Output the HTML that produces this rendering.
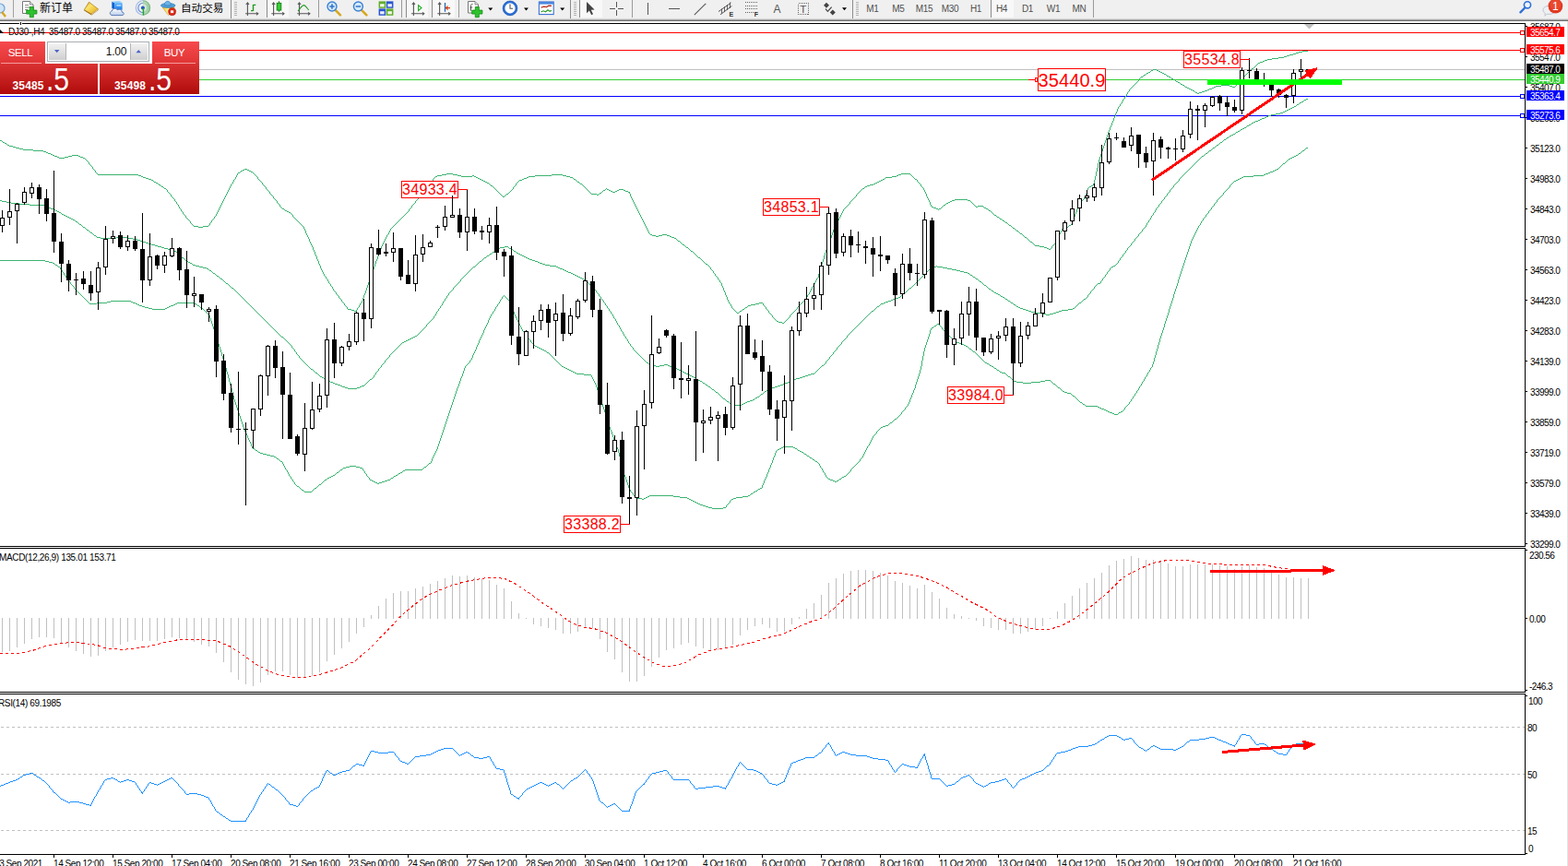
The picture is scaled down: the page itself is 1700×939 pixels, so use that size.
<!DOCTYPE html>
<html><head><meta charset="utf-8"><title>DJ30 H4</title>
<style>
html,body{margin:0;padding:0;}
body{width:1700px;height:939px;overflow:hidden;background:#fff;position:relative;font-family:"Liberation Sans",sans-serif;}
#tb{position:absolute;left:0;top:0;width:1700px;height:20px;background:#f0f0f0;}
.t{position:absolute;white-space:nowrap;color:#000;font-size:10px;line-height:10px;letter-spacing:-0.55px;}
.pl{left:1659px;}
.bx{position:absolute;left:1655px;width:41px;height:11px;}
.bx span{position:absolute;left:4px;top:0.5px;font-size:10px;line-height:11px;letter-spacing:-0.55px;color:#fff;white-space:nowrap;}
.tf{position:absolute;top:3.5px;width:28px;text-align:center;font-size:10px;line-height:11px;color:#505050;letter-spacing:-0.3px;}
.an{position:absolute;color:#ff0000;white-space:nowrap;text-align:center;}
svg{position:absolute;left:0;top:0;}
</style></head><body>

<svg width="1700" height="939" viewBox="0 0 1700 939" shape-rendering="crispEdges">
<rect x="0" y="20" width="1700" height="1" fill="#d9d9d9"/><rect x="0" y="21" width="1700" height="1" fill="#a6a6a6"/><rect x="0" y="22" width="1700" height="1" fill="#707070"/>
<rect x="1699" y="23" width="1" height="916" fill="#e3e3e3"/>
<rect x="0" y="25" width="1654" height="1" fill="#000"/>
<rect x="1653" y="25" width="1" height="568" fill="#000"/><rect x="1653" y="594" width="1" height="157" fill="#000"/><rect x="1653" y="752" width="1" height="175" fill="#000"/>
<rect x="0" y="592" width="1654" height="1" fill="#000"/>
<rect x="0" y="594" width="1654" height="1" fill="#000"/>
<rect x="0" y="750" width="1654" height="1" fill="#000"/>
<rect x="0" y="752" width="1654" height="1" fill="#000"/>
<rect x="0" y="926" width="1654" height="1" fill="#000"/>
<rect x="1654" y="28" width="2" height="1" fill="#000"/>
<rect x="1654" y="61" width="2" height="1" fill="#000"/>
<rect x="1654" y="94" width="2" height="1" fill="#000"/>
<rect x="1654" y="127" width="2" height="1" fill="#000"/>
<rect x="1654" y="160" width="2" height="1" fill="#000"/>
<rect x="1654" y="193" width="2" height="1" fill="#000"/>
<rect x="1654" y="226" width="2" height="1" fill="#000"/>
<rect x="1654" y="259" width="2" height="1" fill="#000"/>
<rect x="1654" y="292" width="2" height="1" fill="#000"/>
<rect x="1654" y="325" width="2" height="1" fill="#000"/>
<rect x="1654" y="358" width="2" height="1" fill="#000"/>
<rect x="1654" y="391" width="2" height="1" fill="#000"/>
<rect x="1654" y="424" width="2" height="1" fill="#000"/>
<rect x="1654" y="457" width="2" height="1" fill="#000"/>
<rect x="1654" y="490" width="2" height="1" fill="#000"/>
<rect x="1654" y="523" width="2" height="1" fill="#000"/>
<rect x="1654" y="556" width="2" height="1" fill="#000"/>
<rect x="1654" y="589" width="2" height="1" fill="#000"/>
<rect x="1654" y="596" width="2" height="1" fill="#000"/>
<rect x="1654" y="670" width="2" height="1" fill="#000"/>
<rect x="1654" y="748" width="2" height="1" fill="#000"/>
<rect x="1654" y="754" width="2" height="1" fill="#000"/>
<rect x="1654" y="925" width="2" height="1" fill="#000"/>
<rect x="58" y="927" width="1" height="3" fill="#000"/>
<rect x="122" y="927" width="1" height="3" fill="#000"/>
<rect x="186" y="927" width="1" height="3" fill="#000"/>
<rect x="250" y="927" width="1" height="3" fill="#000"/>
<rect x="314" y="927" width="1" height="3" fill="#000"/>
<rect x="378" y="927" width="1" height="3" fill="#000"/>
<rect x="442" y="927" width="1" height="3" fill="#000"/>
<rect x="506" y="927" width="1" height="3" fill="#000"/>
<rect x="570" y="927" width="1" height="3" fill="#000"/>
<rect x="634" y="927" width="1" height="3" fill="#000"/>
<rect x="698" y="927" width="1" height="3" fill="#000"/>
<rect x="762" y="927" width="1" height="3" fill="#000"/>
<rect x="826" y="927" width="1" height="3" fill="#000"/>
<rect x="890" y="927" width="1" height="3" fill="#000"/>
<rect x="954" y="927" width="1" height="3" fill="#000"/>
<rect x="1018" y="927" width="1" height="3" fill="#000"/>
<rect x="1082" y="927" width="1" height="3" fill="#000"/>
<rect x="1146" y="927" width="1" height="3" fill="#000"/>
<rect x="1210" y="927" width="1" height="3" fill="#000"/>
<rect x="1274" y="927" width="1" height="3" fill="#000"/>
<rect x="1338" y="927" width="1" height="3" fill="#000"/>
<rect x="1402" y="927" width="1" height="3" fill="#000"/>
<rect x="0" y="35" width="1653" height="1" fill="#ff0000"/>
<rect x="0" y="54" width="1653" height="1" fill="#ff0000"/>
<rect x="0" y="75" width="1653" height="1" fill="#c0c0c0"/>
<rect x="0" y="86" width="1653" height="1" fill="#32cd32"/>
<rect x="0" y="104" width="1653" height="1" fill="#0000ff"/>
<rect x="0" y="125" width="1653" height="1" fill="#0000ff"/>
<path d="M0.5 152v1M1.5 152v1M2.5 153v1M3.5 154v1M4.5 154v1M5.5 155v1M6.5 155v1M7.5 156v1M8.5 157v1M9.5 157v1M10.5 158v1M11.5 158v1M12.5 158v1M13.5 158v1M14.5 159v1M15.5 159v1M16.5 159v1M17.5 160v1M18.5 160v1M19.5 160v1M20.5 160v1M21.5 161v1M22.5 161v1M23.5 161v1M24.5 161v1M25.5 162v1M26.5 162v1M27.5 162v1M28.5 162v1M29.5 162v1M30.5 162v1M31.5 162v1M32.5 162v1M33.5 162v1M34.5 162v1M35.5 162v1M36.5 163v1M37.5 163v1M38.5 163v1M39.5 163v1M40.5 163v1M41.5 163v1M42.5 163v1M43.5 163v1M44.5 163v1M45.5 163v1M46.5 163v1M47.5 164v1M48.5 164v1M49.5 164v1M50.5 165v1M51.5 165v1M52.5 166v1M53.5 166v1M54.5 166v1M55.5 167v1M56.5 167v1M57.5 168v1M58.5 168v1M59.5 169v1M60.5 169v1M61.5 169v1M62.5 170v1M63.5 170v1M64.5 171v1M65.5 171v1M66.5 171v1M67.5 171v1M68.5 171v1M69.5 171v1M70.5 170v1M71.5 170v1M72.5 170v1M73.5 170v1M74.5 169v1M75.5 169v1M76.5 169v1M77.5 169v1M78.5 168v1M79.5 168v1M80.5 168v1M81.5 168v1M82.5 168v1M83.5 168v1M84.5 168v1M85.5 169v1M86.5 169v1M87.5 170v1M88.5 170v1M89.5 170v1M90.5 171v1M91.5 171v1M92.5 172v1M93.5 173v1M94.5 174v1M95.5 175v1M96.5 176v2M97.5 178v1M98.5 179v1M99.5 180v1M100.5 181v2M101.5 183v1M102.5 184v1M103.5 185v2M104.5 187v1M105.5 188v1M106.5 189v1M107.5 189v1M108.5 189v1M109.5 189v1M110.5 189v1M111.5 189v1M112.5 189v1M113.5 189v1M114.5 189v1M115.5 189v1M116.5 189v1M117.5 189v1M118.5 189v1M119.5 189v1M120.5 189v1M121.5 189v1M122.5 189v1M123.5 189v1M124.5 189v1M125.5 189v1M126.5 189v1M127.5 189v1M128.5 189v1M129.5 189v1M130.5 189v1M131.5 189v1M132.5 189v1M133.5 189v1M134.5 189v1M135.5 189v1M136.5 189v1M137.5 189v1M138.5 189v1M139.5 189v1M140.5 189v1M141.5 189v1M142.5 189v1M143.5 189v1M144.5 189v1M145.5 189v1M146.5 189v1M147.5 189v1M148.5 189v1M149.5 189v1M150.5 190v1M151.5 190v1M152.5 190v1M153.5 191v1M154.5 191v1M155.5 192v1M156.5 192v1M157.5 192v1M158.5 193v1M159.5 193v1M160.5 193v1M161.5 194v1M162.5 194v1M163.5 194v1M164.5 195v1M165.5 195v1M166.5 196v1M167.5 197v1M168.5 197v1M169.5 198v1M170.5 198v1M171.5 199v1M172.5 200v1M173.5 200v1M174.5 201v1M175.5 202v1M176.5 202v1M177.5 203v1M178.5 204v1M179.5 204v1M180.5 205v1M181.5 206v2M182.5 208v1M183.5 209v1M184.5 210v1M185.5 211v2M186.5 213v1M187.5 214v1M188.5 215v1M189.5 216v2M190.5 218v1M191.5 219v2M192.5 221v1M193.5 222v2M194.5 224v2M195.5 226v1M196.5 227v2M197.5 229v1M198.5 230v2M199.5 232v1M200.5 233v1M201.5 234v2M202.5 236v1M203.5 237v1M204.5 238v1M205.5 239v1M206.5 240v2M207.5 242v1M208.5 243v1M209.5 244v1M210.5 245v1M211.5 245v1M212.5 245v1M213.5 245v1M214.5 245v1M215.5 246v1M216.5 246v1M217.5 246v1M218.5 246v1M219.5 246v1M220.5 245v1M221.5 245v1M222.5 245v1M223.5 245v1M224.5 245v1M225.5 245v1M226.5 244v1M227.5 242v2M228.5 241v1M229.5 239v2M230.5 238v1M231.5 237v1M232.5 235v2M233.5 234v1M234.5 232v2M235.5 230v2M236.5 228v2M237.5 226v2M238.5 224v2M239.5 222v2M240.5 220v2M241.5 218v2M242.5 216v2M243.5 214v2M244.5 212v2M245.5 210v2M246.5 208v2M247.5 206v2M248.5 204v2M249.5 202v2M250.5 200v2M251.5 199v1M252.5 197v2M253.5 195v2M254.5 194v1M255.5 192v2M256.5 190v2M257.5 188v2M258.5 187v1M259.5 187v1M260.5 186v1M261.5 185v1M262.5 185v1M263.5 184v1M264.5 184v1M265.5 183v1M266.5 183v1M267.5 183v1M268.5 184v1M269.5 184v1M270.5 185v1M271.5 185v1M272.5 186v1M273.5 186v1M274.5 187v1M275.5 188v1M276.5 189v1M277.5 190v1M278.5 191v1M279.5 192v2M280.5 194v1M281.5 195v1M282.5 196v1M283.5 197v1M284.5 198v2M285.5 200v1M286.5 201v1M287.5 202v1M288.5 203v2M289.5 205v1M290.5 206v1M291.5 207v1M292.5 208v2M293.5 210v1M294.5 211v1M295.5 212v1M296.5 213v2M297.5 215v1M298.5 216v1M299.5 217v1M300.5 218v2M301.5 220v1M302.5 221v1M303.5 222v2M304.5 224v1M305.5 225v1M306.5 226v1M307.5 226v1M308.5 227v1M309.5 228v1M310.5 228v1M311.5 229v1M312.5 229v1M313.5 230v1M314.5 230v1M315.5 231v1M316.5 232v1M317.5 233v2M318.5 235v1M319.5 236v1M320.5 237v1M321.5 238v1M322.5 239v1M323.5 240v1M324.5 241v1M325.5 242v1M326.5 243v1M327.5 244v1M328.5 245v1M329.5 246v2M330.5 248v2M331.5 250v3M332.5 253v2M333.5 255v2M334.5 257v2M335.5 259v3M336.5 262v2M337.5 264v2M338.5 266v2M339.5 268v3M340.5 271v2M341.5 273v3M342.5 276v2M343.5 278v3M344.5 281v2M345.5 283v3M346.5 286v2M347.5 288v3M348.5 291v2M349.5 293v2M350.5 295v2M351.5 297v2M352.5 299v1M353.5 300v2M354.5 302v1M355.5 303v2M356.5 305v2M357.5 307v1M358.5 308v2M359.5 310v1M360.5 311v2M361.5 313v2M362.5 315v1M363.5 316v1M364.5 317v2M365.5 319v1M366.5 320v1M367.5 321v2M368.5 323v1M369.5 324v1M370.5 325v2M371.5 327v1M372.5 328v1M373.5 329v2M374.5 331v1M375.5 332v1M376.5 333v2M377.5 335v1M378.5 335v1M379.5 335v1M380.5 335v1M381.5 336v1M382.5 336v1M383.5 336v1M384.5 337v1M385.5 337v1M386.5 336v2M387.5 334v2M388.5 333v1M389.5 331v2M390.5 329v2M391.5 328v1M392.5 326v2M393.5 323v3M394.5 320v3M395.5 318v2M396.5 315v3M397.5 312v3M398.5 309v3M399.5 306v3M400.5 303v3M401.5 300v3M402.5 297v3M403.5 294v3M404.5 292v2M405.5 289v3M406.5 286v3M407.5 283v3M408.5 281v2M409.5 278v3M410.5 275v3M411.5 272v3M412.5 270v2M413.5 267v3M414.5 265v2M415.5 263v2M416.5 261v2M417.5 259v2M418.5 257v2M419.5 255v2M420.5 254v1M421.5 252v2M422.5 250v2M423.5 248v2M424.5 247v1M425.5 246v1M426.5 245v1M427.5 244v1M428.5 243v1M429.5 242v1M430.5 241v1M431.5 240v1M432.5 239v1M433.5 238v1M434.5 237v1M435.5 236v1M436.5 235v1M437.5 234v1M438.5 233v1M439.5 232v1M440.5 231v1M441.5 230v1M442.5 229v1M443.5 227v2M444.5 226v1M445.5 225v1M446.5 223v2M447.5 222v1M448.5 221v1M449.5 220v1M450.5 218v2M451.5 217v1M452.5 216v1M453.5 215v1M454.5 213v2M455.5 212v1M456.5 211v1M457.5 209v2M458.5 208v1M459.5 207v1M460.5 206v1M461.5 204v2M462.5 203v1M463.5 202v1M464.5 201v1M465.5 199v2M466.5 198v1M467.5 197v1M468.5 196v1M469.5 194v2M470.5 193v1M471.5 192v1M472.5 191v1M473.5 191v1M474.5 190v1M475.5 190v1M476.5 190v1M477.5 190v1M478.5 190v1M479.5 189v1M480.5 189v1M481.5 189v1M482.5 189v1M483.5 189v1M484.5 188v1M485.5 188v1M486.5 188v1M487.5 188v1M488.5 188v1M489.5 188v1M490.5 188v1M491.5 189v1M492.5 189v1M493.5 189v1M494.5 189v1M495.5 189v1M496.5 190v1M497.5 190v1M498.5 190v1M499.5 190v1M500.5 191v1M501.5 191v1M502.5 191v1M503.5 191v1M504.5 191v1M505.5 191v1M506.5 191v1M507.5 191v1M508.5 191v1M509.5 191v1M510.5 191v1M511.5 191v1M512.5 190v1M513.5 190v1M514.5 191v1M515.5 191v1M516.5 192v1M517.5 192v1M518.5 193v1M519.5 193v1M520.5 194v1M521.5 194v1M522.5 195v1M523.5 195v1M524.5 196v1M525.5 196v1M526.5 197v1M527.5 197v1M528.5 198v1M529.5 198v1M530.5 199v1M531.5 200v1M532.5 201v1M533.5 201v1M534.5 202v1M535.5 203v1M536.5 204v1M537.5 205v1M538.5 206v1M539.5 207v1M540.5 208v1M541.5 209v1M542.5 210v1M543.5 211v1M544.5 212v1M545.5 213v1M546.5 213v1M547.5 212v1M548.5 211v1M549.5 210v1M550.5 210v1M551.5 209v1M552.5 208v1M553.5 207v1M554.5 206v1M555.5 205v1M556.5 203v2M557.5 202v1M558.5 201v1M559.5 199v2M560.5 198v1M561.5 197v1M562.5 196v1M563.5 195v1M564.5 195v1M565.5 195v1M566.5 194v1M567.5 194v1M568.5 193v1M569.5 193v1M570.5 193v1M571.5 192v1M572.5 192v1M573.5 191v1M574.5 191v1M575.5 191v1M576.5 191v1M577.5 191v1M578.5 191v1M579.5 191v1M580.5 190v1M581.5 190v1M582.5 190v1M583.5 190v1M584.5 190v1M585.5 190v1M586.5 190v1M587.5 190v1M588.5 190v1M589.5 190v1M590.5 190v1M591.5 190v1M592.5 190v1M593.5 190v1M594.5 190v1M595.5 190v1M596.5 190v1M597.5 190v1M598.5 189v1M599.5 189v1M600.5 189v1M601.5 189v1M602.5 189v1M603.5 189v1M604.5 189v1M605.5 189v1M606.5 189v1M607.5 189v1M608.5 189v1M609.5 189v1M610.5 190v1M611.5 190v1M612.5 190v1M613.5 190v1M614.5 191v1M615.5 191v1M616.5 191v1M617.5 191v1M618.5 192v1M619.5 192v1M620.5 192v1M621.5 193v1M622.5 194v1M623.5 194v1M624.5 195v1M625.5 196v1M626.5 197v1M627.5 197v1M628.5 198v1M629.5 199v1M630.5 199v1M631.5 200v1M632.5 201v1M633.5 202v1M634.5 203v1M635.5 204v1M636.5 205v1M637.5 206v1M638.5 207v1M639.5 208v1M640.5 209v1M641.5 210v1M642.5 210v1M643.5 210v1M644.5 210v1M645.5 210v1M646.5 210v1M647.5 211v1M648.5 211v1M649.5 210v1M650.5 209v1M651.5 209v1M652.5 208v1M653.5 207v1M654.5 206v1M655.5 206v1M656.5 205v1M657.5 204v1M658.5 205v1M659.5 205v1M660.5 206v1M661.5 206v1M662.5 207v1M663.5 207v1M664.5 208v1M665.5 208v1M666.5 208v1M667.5 207v1M668.5 207v1M669.5 206v1M670.5 206v1M671.5 205v1M672.5 205v1M673.5 205v1M674.5 205v1M675.5 205v1M676.5 206v1M677.5 206v1M678.5 207v1M679.5 207v1M680.5 207v1M681.5 208v1M682.5 208v2M683.5 210v3M684.5 213v2M685.5 215v2M686.5 217v2M687.5 219v2M688.5 221v2M689.5 223v2M690.5 225v2M691.5 227v2M692.5 229v2M693.5 231v2M694.5 233v2M695.5 235v2M696.5 237v2M697.5 239v2M698.5 241v2M699.5 243v2M700.5 245v2M701.5 247v2M702.5 249v2M703.5 251v2M704.5 253v1M705.5 254v1M706.5 254v1M707.5 255v1M708.5 255v1M709.5 255v1M710.5 255v1M711.5 256v1M712.5 256v1M713.5 256v1M714.5 255v1M715.5 255v1M716.5 255v1M717.5 255v1M718.5 254v1M719.5 254v1M720.5 254v1M721.5 254v1M722.5 254v1M723.5 255v1M724.5 255v1M725.5 255v1M726.5 256v1M727.5 256v1M728.5 257v1M729.5 257v1M730.5 257v1M731.5 258v1M732.5 258v1M733.5 259v1M734.5 260v1M735.5 261v1M736.5 261v1M737.5 262v1M738.5 263v1M739.5 264v1M740.5 265v1M741.5 265v1M742.5 266v1M743.5 267v1M744.5 268v1M745.5 268v1M746.5 269v1M747.5 270v1M748.5 271v1M749.5 272v1M750.5 272v1M751.5 273v1M752.5 274v1M753.5 275v1M754.5 276v1M755.5 277v1M756.5 278v1M757.5 279v1M758.5 279v1M759.5 280v1M760.5 281v1M761.5 282v1M762.5 283v1M763.5 284v1M764.5 285v1M765.5 286v1M766.5 286v1M767.5 287v1M768.5 288v1M769.5 289v1M770.5 290v2M771.5 292v1M772.5 293v1M773.5 294v2M774.5 296v1M775.5 297v2M776.5 299v1M777.5 300v1M778.5 301v2M779.5 303v1M780.5 304v2M781.5 306v1M782.5 307v3M783.5 310v2M784.5 312v3M785.5 315v2M786.5 317v3M787.5 320v2M788.5 322v3M789.5 325v2M790.5 327v2M791.5 329v1M792.5 330v2M793.5 332v2M794.5 334v1M795.5 335v1M796.5 336v1M797.5 337v1M798.5 338v1M799.5 339v1M800.5 339v1M801.5 338v1M802.5 337v1M803.5 337v1M804.5 336v1M805.5 335v1M806.5 335v1M807.5 334v1M808.5 333v1M809.5 333v1M810.5 332v1M811.5 331v1M812.5 331v1M813.5 331v1M814.5 330v1M815.5 330v1M816.5 330v1M817.5 330v1M818.5 330v1M819.5 329v1M820.5 329v1M821.5 329v1M822.5 329v1M823.5 328v1M824.5 328v1M825.5 328v1M826.5 328v1M827.5 329v2M828.5 331v1M829.5 332v1M830.5 333v2M831.5 335v1M832.5 336v1M833.5 337v2M834.5 339v1M835.5 340v1M836.5 341v1M837.5 342v2M838.5 344v1M839.5 345v1M840.5 346v1M841.5 347v1M842.5 348v1M843.5 348v1M844.5 349v1M845.5 349v1M846.5 349v1M847.5 349v1M848.5 350v1M849.5 350v1M850.5 349v1M851.5 348v1M852.5 347v1M853.5 346v1M854.5 345v1M855.5 344v1M856.5 342v2M857.5 341v1M858.5 340v1M859.5 339v1M860.5 338v1M861.5 337v1M862.5 336v1M863.5 335v1M864.5 333v2M865.5 332v1M866.5 331v1M867.5 330v1M868.5 329v1M869.5 328v1M870.5 327v1M871.5 326v1M872.5 325v1M873.5 324v1M874.5 322v2M875.5 320v2M876.5 319v1M877.5 317v2M878.5 315v2M879.5 313v2M880.5 311v2M881.5 310v1M882.5 308v2M883.5 306v2M884.5 304v2M885.5 302v2M886.5 301v1M887.5 297v4M888.5 294v3M889.5 291v3M890.5 287v4M891.5 284v3M892.5 281v3M893.5 277v4M894.5 274v3M895.5 271v3M896.5 269v2M897.5 266v3M898.5 263v3M899.5 260v3M900.5 258v2M901.5 255v3M902.5 252v3M903.5 249v3M904.5 247v2M905.5 245v2M906.5 243v2M907.5 241v2M908.5 239v2M909.5 237v2M910.5 235v2M911.5 233v2M912.5 231v2M913.5 229v2M914.5 227v2M915.5 226v1M916.5 225v1M917.5 224v1M918.5 223v1M919.5 222v1M920.5 221v1M921.5 219v2M922.5 218v1M923.5 217v1M924.5 216v1M925.5 215v1M926.5 214v1M927.5 213v1M928.5 211v2M929.5 210v1M930.5 209v1M931.5 208v1M932.5 207v1M933.5 206v1M934.5 205v1M935.5 204v1M936.5 204v1M937.5 203v1M938.5 202v1M939.5 202v1M940.5 201v1M941.5 201v1M942.5 201v1M943.5 200v1M944.5 200v1M945.5 200v1M946.5 200v1M947.5 199v1M948.5 199v1M949.5 198v1M950.5 198v1M951.5 197v1M952.5 197v1M953.5 196v1M954.5 196v1M955.5 195v1M956.5 195v1M957.5 194v1M958.5 194v1M959.5 193v1M960.5 192v1M961.5 192v1M962.5 192v1M963.5 192v1M964.5 192v1M965.5 192v1M966.5 192v1M967.5 191v1M968.5 191v1M969.5 191v1M970.5 191v1M971.5 191v1M972.5 190v1M973.5 190v1M974.5 189v1M975.5 189v1M976.5 189v1M977.5 188v1M978.5 188v1M979.5 188v1M980.5 188v1M981.5 188v1M982.5 188v1M983.5 188v1M984.5 188v1M985.5 188v1M986.5 188v1M987.5 189v1M988.5 190v1M989.5 191v1M990.5 192v1M991.5 193v1M992.5 194v1M993.5 194v1M994.5 195v2M995.5 197v1M996.5 198v1M997.5 199v1M998.5 200v2M999.5 202v1M1000.5 203v1M1001.5 204v2M1002.5 206v2M1003.5 208v2M1004.5 210v3M1005.5 213v2M1006.5 215v2M1007.5 217v2M1008.5 219v3M1009.5 222v2M1010.5 224v1M1011.5 224v1M1012.5 225v1M1013.5 225v1M1014.5 225v1M1015.5 226v1M1016.5 226v1M1017.5 227v1M1018.5 226v1M1019.5 226v1M1020.5 225v1M1021.5 224v1M1022.5 223v1M1023.5 222v1M1024.5 222v1M1025.5 221v1M1026.5 220v1M1027.5 220v1M1028.5 219v1M1029.5 219v1M1030.5 218v1M1031.5 218v1M1032.5 217v1M1033.5 217v1M1034.5 217v1M1035.5 216v1M1036.5 216v1M1037.5 216v1M1038.5 216v1M1039.5 216v1M1040.5 216v1M1041.5 216v1M1042.5 216v1M1043.5 216v1M1044.5 216v1M1045.5 216v1M1046.5 216v1M1047.5 216v1M1048.5 216v1M1049.5 217v1M1050.5 217v1M1051.5 217v1M1052.5 218v1M1053.5 219v1M1054.5 220v1M1055.5 221v1M1056.5 222v1M1057.5 223v1M1058.5 224v1M1059.5 224v1M1060.5 223v1M1061.5 223v1M1062.5 223v1M1063.5 223v1M1064.5 223v1M1065.5 223v1M1066.5 224v1M1067.5 225v1M1068.5 225v1M1069.5 226v1M1070.5 226v1M1071.5 227v1M1072.5 228v1M1073.5 228v1M1074.5 229v1M1075.5 230v1M1076.5 231v1M1077.5 232v1M1078.5 233v1M1079.5 233v1M1080.5 234v1M1081.5 235v1M1082.5 235v1M1083.5 236v1M1084.5 237v1M1085.5 237v1M1086.5 238v1M1087.5 239v1M1088.5 239v1M1089.5 240v1M1090.5 241v1M1091.5 241v1M1092.5 242v1M1093.5 243v1M1094.5 244v1M1095.5 244v1M1096.5 245v1M1097.5 246v1M1098.5 247v1M1099.5 247v1M1100.5 248v1M1101.5 249v1M1102.5 250v1M1103.5 250v1M1104.5 251v1M1105.5 252v1M1106.5 253v1M1107.5 253v1M1108.5 254v1M1109.5 255v1M1110.5 256v1M1111.5 257v1M1112.5 257v1M1113.5 258v1M1114.5 259v1M1115.5 260v1M1116.5 261v1M1117.5 262v1M1118.5 262v1M1119.5 263v1M1120.5 264v1M1121.5 265v1M1122.5 266v1M1123.5 266v1M1124.5 266v1M1125.5 266v1M1126.5 266v1M1127.5 267v1M1128.5 267v1M1129.5 267v1M1130.5 267v1M1131.5 267v1M1132.5 268v1M1133.5 268v1M1134.5 268v1M1135.5 269v1M1136.5 269v1M1137.5 270v1M1138.5 270v1M1139.5 269v1M1140.5 267v2M1141.5 266v1M1142.5 265v1M1143.5 264v1M1144.5 262v2M1145.5 260v2M1146.5 258v2M1147.5 256v2M1148.5 254v2M1149.5 252v2M1150.5 250v2M1151.5 248v2M1152.5 247v1M1153.5 247v1M1154.5 247v1M1155.5 246v1M1156.5 246v1M1157.5 246v1M1158.5 245v1M1159.5 244v1M1160.5 244v1M1161.5 243v1M1162.5 240v3M1163.5 238v2M1164.5 235v3M1165.5 232v3M1166.5 230v2M1167.5 227v3M1168.5 224v3M1169.5 222v2M1170.5 221v1M1171.5 220v1M1172.5 218v2M1173.5 217v1M1174.5 216v1M1175.5 214v2M1176.5 213v1M1177.5 210v3M1178.5 206v4M1179.5 204v2M1180.5 203v1M1181.5 202v1M1182.5 202v1M1183.5 201v1M1184.5 201v1M1185.5 199v2M1186.5 195v4M1187.5 191v4M1188.5 186v5M1189.5 182v4M1190.5 177v5M1191.5 173v4M1192.5 170v3M1193.5 167v3M1194.5 164v3M1195.5 161v3M1196.5 158v3M1197.5 155v3M1198.5 152v3M1199.5 149v3M1200.5 146v3M1201.5 143v3M1202.5 141v2M1203.5 138v3M1204.5 136v2M1205.5 133v3M1206.5 131v2M1207.5 128v3M1208.5 126v2M1209.5 123v3M1210.5 121v2M1211.5 118v3M1212.5 116v2M1213.5 115v1M1214.5 113v2M1215.5 112v1M1216.5 110v2M1217.5 108v2M1218.5 107v1M1219.5 105v2M1220.5 104v1M1221.5 102v2M1222.5 100v2M1223.5 99v1M1224.5 97v2M1225.5 96v1M1226.5 95v1M1227.5 94v1M1228.5 93v1M1229.5 92v1M1230.5 91v1M1231.5 90v1M1232.5 89v1M1233.5 88v1M1234.5 86v2M1235.5 85v1M1236.5 84v1M1237.5 83v1M1238.5 83v1M1239.5 82v1M1240.5 81v1M1241.5 81v1M1242.5 80v1M1243.5 79v1M1244.5 79v1M1245.5 78v1M1246.5 78v1M1247.5 77v1M1248.5 76v1M1249.5 76v1M1250.5 75v1M1251.5 75v1M1252.5 75v1M1253.5 75v1M1254.5 76v1M1255.5 76v1M1256.5 77v1M1257.5 77v1M1258.5 78v1M1259.5 78v1M1260.5 79v1M1261.5 79v1M1262.5 80v1M1263.5 80v1M1264.5 81v1M1265.5 82v1M1266.5 82v1M1267.5 83v1M1268.5 83v1M1269.5 84v1M1270.5 85v1M1271.5 85v1M1272.5 86v1M1273.5 86v1M1274.5 87v1M1275.5 88v1M1276.5 88v1M1277.5 89v1M1278.5 89v1M1279.5 90v1M1280.5 91v1M1281.5 91v1M1282.5 92v1M1283.5 92v1M1284.5 93v1M1285.5 94v1M1286.5 94v1M1287.5 95v1M1288.5 95v1M1289.5 96v1M1290.5 96v1M1291.5 97v1M1292.5 97v1M1293.5 98v1M1294.5 98v1M1295.5 99v1M1296.5 100v1M1297.5 100v1M1298.5 101v1M1299.5 101v1M1300.5 100v1M1301.5 100v1M1302.5 100v1M1303.5 99v1M1304.5 99v1M1305.5 99v1M1306.5 98v1M1307.5 98v1M1308.5 98v1M1309.5 97v1M1310.5 97v1M1311.5 96v1M1312.5 96v1M1313.5 96v1M1314.5 95v1M1315.5 95v1M1316.5 94v1M1317.5 94v1M1318.5 93v1M1319.5 93v1M1320.5 93v1M1321.5 93v1M1322.5 93v1M1323.5 93v1M1324.5 92v1M1325.5 92v1M1326.5 92v1M1327.5 92v1M1328.5 92v1M1329.5 92v1M1330.5 92v1M1331.5 92v1M1332.5 92v1M1333.5 93v1M1334.5 93v1M1335.5 93v1M1336.5 94v1M1337.5 94v1M1338.5 94v1M1339.5 93v1M1340.5 92v1M1341.5 91v1M1342.5 90v1M1343.5 89v1M1344.5 88v1M1345.5 87v1M1346.5 86v1M1347.5 84v2M1348.5 83v1M1349.5 82v1M1350.5 81v1M1351.5 80v1M1352.5 79v1M1353.5 78v1M1354.5 77v1M1355.5 76v1M1356.5 75v1M1357.5 74v1M1358.5 74v1M1359.5 73v1M1360.5 72v1M1361.5 71v1M1362.5 70v1M1363.5 69v1M1364.5 68v1M1365.5 68v1M1366.5 67v1M1367.5 67v1M1368.5 67v1M1369.5 66v1M1370.5 66v1M1371.5 65v1M1372.5 65v1M1373.5 65v1M1374.5 64v1M1375.5 64v1M1376.5 64v1M1377.5 64v1M1378.5 64v1M1379.5 63v1M1380.5 63v1M1381.5 63v1M1382.5 63v1M1383.5 63v1M1384.5 63v1M1385.5 63v1M1386.5 62v1M1387.5 62v1M1388.5 62v1M1389.5 62v1M1390.5 62v1M1391.5 62v1M1392.5 61v1M1393.5 61v1M1394.5 61v1M1395.5 60v1M1396.5 60v1M1397.5 60v1M1398.5 59v1M1399.5 59v1M1400.5 59v1M1401.5 59v1M1402.5 58v1M1403.5 58v1M1404.5 58v1M1405.5 57v1M1406.5 57v1M1407.5 57v1M1408.5 56v1M1409.5 56v1M1410.5 56v1M1411.5 56v1M1412.5 55v1M1413.5 55v1M1414.5 55v1M1415.5 55v1M1416.5 55v1M1417.5 55v1" fill="none" stroke="#3cb371" stroke-width="1"/>
<path d="M0.5 217v1M1.5 217v1M2.5 218v1M3.5 218v1M4.5 218v1M5.5 218v1M6.5 218v1M7.5 219v1M8.5 219v1M9.5 219v1M10.5 219v1M11.5 219v1M12.5 220v1M13.5 220v1M14.5 220v1M15.5 220v1M16.5 220v1M17.5 220v1M18.5 220v1M19.5 220v1M20.5 220v1M21.5 221v1M22.5 221v1M23.5 221v1M24.5 221v1M25.5 221v1M26.5 221v1M27.5 221v1M28.5 221v1M29.5 221v1M30.5 221v1M31.5 221v1M32.5 222v1M33.5 222v1M34.5 222v1M35.5 222v1M36.5 222v1M37.5 222v1M38.5 222v1M39.5 222v1M40.5 222v1M41.5 222v1M42.5 222v1M43.5 222v1M44.5 222v1M45.5 222v1M46.5 222v1M47.5 222v1M48.5 222v1M49.5 223v1M50.5 223v1M51.5 224v1M52.5 224v1M53.5 225v1M54.5 225v1M55.5 226v1M56.5 226v1M57.5 226v1M58.5 227v1M59.5 227v1M60.5 228v1M61.5 228v1M62.5 229v1M63.5 229v1M64.5 230v1M65.5 230v1M66.5 231v1M67.5 232v1M68.5 232v1M69.5 233v1M70.5 233v1M71.5 234v1M72.5 234v1M73.5 235v1M74.5 235v1M75.5 236v1M76.5 236v1M77.5 237v1M78.5 237v1M79.5 238v1M80.5 238v1M81.5 239v1M82.5 240v1M83.5 240v1M84.5 241v1M85.5 242v1M86.5 243v1M87.5 243v1M88.5 244v1M89.5 245v1M90.5 246v1M91.5 246v1M92.5 247v1M93.5 248v1M94.5 249v1M95.5 249v1M96.5 250v1M97.5 251v1M98.5 252v1M99.5 252v1M100.5 253v1M101.5 254v1M102.5 255v1M103.5 255v1M104.5 256v1M105.5 257v1M106.5 257v1M107.5 257v1M108.5 257v1M109.5 258v1M110.5 258v1M111.5 258v1M112.5 258v1M113.5 258v1M114.5 258v1M115.5 258v1M116.5 258v1M117.5 258v1M118.5 258v1M119.5 258v1M120.5 258v1M121.5 258v1M122.5 258v1M123.5 258v1M124.5 258v1M125.5 258v1M126.5 257v1M127.5 257v1M128.5 257v1M129.5 257v1M130.5 257v1M131.5 257v1M132.5 257v1M133.5 257v1M134.5 257v1M135.5 257v1M136.5 257v1M137.5 257v1M138.5 258v1M139.5 258v1M140.5 258v1M141.5 258v1M142.5 258v1M143.5 258v1M144.5 259v1M145.5 259v1M146.5 259v1M147.5 259v1M148.5 259v1M149.5 260v1M150.5 260v1M151.5 260v1M152.5 261v1M153.5 261v1M154.5 261v1M155.5 262v1M156.5 262v1M157.5 262v1M158.5 263v1M159.5 263v1M160.5 263v1M161.5 264v1M162.5 264v1M163.5 264v1M164.5 265v1M165.5 265v1M166.5 265v1M167.5 265v1M168.5 266v1M169.5 266v1M170.5 266v1M171.5 267v1M172.5 267v1M173.5 267v1M174.5 267v1M175.5 268v1M176.5 268v1M177.5 268v1M178.5 269v1M179.5 269v1M180.5 269v1M181.5 269v1M182.5 270v1M183.5 270v1M184.5 270v1M185.5 271v1M186.5 271v1M187.5 271v1M188.5 272v1M189.5 272v1M190.5 272v1M191.5 273v1M192.5 274v1M193.5 275v1M194.5 276v1M195.5 277v1M196.5 278v1M197.5 279v1M198.5 279v1M199.5 280v1M200.5 281v1M201.5 282v1M202.5 282v1M203.5 283v1M204.5 284v1M205.5 284v1M206.5 285v1M207.5 285v1M208.5 286v1M209.5 287v1M210.5 287v1M211.5 287v1M212.5 288v1M213.5 288v1M214.5 288v1M215.5 288v1M216.5 289v1M217.5 289v1M218.5 289v1M219.5 289v1M220.5 290v1M221.5 290v1M222.5 290v1M223.5 290v1M224.5 291v1M225.5 291v1M226.5 292v1M227.5 293v1M228.5 293v1M229.5 294v1M230.5 295v1M231.5 296v1M232.5 296v1M233.5 297v1M234.5 298v1M235.5 299v1M236.5 299v1M237.5 300v1M238.5 301v1M239.5 302v1M240.5 302v1M241.5 303v1M242.5 304v1M243.5 305v1M244.5 306v1M245.5 307v1M246.5 307v1M247.5 308v1M248.5 309v1M249.5 310v1M250.5 311v1M251.5 312v1M252.5 312v1M253.5 313v1M254.5 314v1M255.5 315v1M256.5 316v1M257.5 317v1M258.5 318v1M259.5 319v1M260.5 320v1M261.5 321v1M262.5 322v1M263.5 323v1M264.5 324v1M265.5 325v1M266.5 326v1M267.5 327v1M268.5 328v1M269.5 329v1M270.5 330v1M271.5 331v1M272.5 332v1M273.5 333v1M274.5 334v1M275.5 335v1M276.5 336v1M277.5 337v1M278.5 338v1M279.5 339v1M280.5 340v1M281.5 341v1M282.5 342v1M283.5 343v1M284.5 344v1M285.5 345v1M286.5 346v1M287.5 347v1M288.5 348v1M289.5 349v1M290.5 350v1M291.5 351v1M292.5 352v1M293.5 353v1M294.5 354v1M295.5 355v1M296.5 356v1M297.5 357v1M298.5 358v1M299.5 359v1M300.5 360v1M301.5 361v1M302.5 362v1M303.5 363v1M304.5 364v1M305.5 365v1M306.5 365v1M307.5 366v1M308.5 367v1M309.5 368v1M310.5 369v1M311.5 370v1M312.5 371v1M313.5 372v1M314.5 373v1M315.5 374v1M316.5 375v2M317.5 377v1M318.5 378v1M319.5 379v2M320.5 381v1M321.5 382v2M322.5 384v1M323.5 385v1M324.5 386v2M325.5 388v1M326.5 389v1M327.5 390v1M328.5 391v1M329.5 392v1M330.5 393v1M331.5 394v1M332.5 395v1M333.5 396v1M334.5 397v1M335.5 398v1M336.5 399v1M337.5 400v1M338.5 400v1M339.5 401v1M340.5 402v1M341.5 403v1M342.5 404v1M343.5 404v1M344.5 405v1M345.5 406v1M346.5 407v1M347.5 408v1M348.5 408v1M349.5 409v1M350.5 409v1M351.5 410v1M352.5 410v1M353.5 411v1M354.5 412v1M355.5 412v1M356.5 413v1M357.5 413v1M358.5 414v1M359.5 414v1M360.5 414v1M361.5 415v1M362.5 415v1M363.5 416v1M364.5 416v1M365.5 416v1M366.5 417v1M367.5 417v1M368.5 417v1M369.5 418v1M370.5 418v1M371.5 419v1M372.5 419v1M373.5 419v1M374.5 420v1M375.5 420v1M376.5 420v1M377.5 421v1M378.5 421v1M379.5 421v1M380.5 421v1M381.5 421v1M382.5 421v1M383.5 421v1M384.5 421v1M385.5 421v1M386.5 421v1M387.5 420v1M388.5 420v1M389.5 420v1M390.5 419v1M391.5 419v1M392.5 418v1M393.5 418v1M394.5 418v1M395.5 417v1M396.5 416v1M397.5 415v1M398.5 414v1M399.5 413v1M400.5 412v1M401.5 411v1M402.5 411v1M403.5 410v1M404.5 409v1M405.5 407v2M406.5 406v1M407.5 404v2M408.5 403v1M409.5 402v1M410.5 400v2M411.5 399v1M412.5 398v1M413.5 396v2M414.5 395v1M415.5 394v1M416.5 393v1M417.5 391v2M418.5 390v1M419.5 389v1M420.5 388v1M421.5 387v1M422.5 385v2M423.5 384v1M424.5 383v1M425.5 382v1M426.5 381v1M427.5 380v1M428.5 379v1M429.5 378v1M430.5 377v1M431.5 376v1M432.5 375v1M433.5 374v1M434.5 373v1M435.5 372v1M436.5 371v1M437.5 371v1M438.5 370v1M439.5 370v1M440.5 369v1M441.5 369v1M442.5 368v1M443.5 368v1M444.5 367v1M445.5 367v1M446.5 366v1M447.5 366v1M448.5 365v1M449.5 365v1M450.5 364v1M451.5 364v1M452.5 363v1M453.5 362v1M454.5 361v1M455.5 360v1M456.5 359v1M457.5 358v1M458.5 357v1M459.5 356v1M460.5 355v1M461.5 354v1M462.5 352v2M463.5 351v1M464.5 350v1M465.5 349v1M466.5 348v1M467.5 347v1M468.5 346v1M469.5 345v1M470.5 343v2M471.5 342v1M472.5 340v2M473.5 338v2M474.5 337v1M475.5 335v2M476.5 334v1M477.5 332v2M478.5 331v1M479.5 329v2M480.5 327v2M481.5 326v1M482.5 324v2M483.5 323v1M484.5 321v2M485.5 320v1M486.5 318v2M487.5 317v1M488.5 316v1M489.5 315v1M490.5 314v1M491.5 312v2M492.5 311v1M493.5 310v1M494.5 309v1M495.5 308v1M496.5 307v1M497.5 306v1M498.5 305v1M499.5 303v2M500.5 302v1M501.5 301v1M502.5 300v1M503.5 299v1M504.5 298v1M505.5 297v1M506.5 296v1M507.5 295v1M508.5 294v1M509.5 293v1M510.5 292v1M511.5 291v1M512.5 290v1M513.5 289v1M514.5 289v1M515.5 288v1M516.5 287v1M517.5 286v1M518.5 285v1M519.5 284v1M520.5 283v1M521.5 283v1M522.5 282v1M523.5 281v1M524.5 280v1M525.5 279v1M526.5 279v1M527.5 278v1M528.5 277v1M529.5 277v1M530.5 276v1M531.5 275v1M532.5 275v1M533.5 274v1M534.5 273v1M535.5 273v1M536.5 272v1M537.5 271v1M538.5 271v1M539.5 270v1M540.5 270v1M541.5 269v1M542.5 268v1M543.5 268v1M544.5 268v1M545.5 268v1M546.5 268v1M547.5 267v1M548.5 267v1M549.5 267v1M550.5 267v1M551.5 268v1M552.5 269v1M553.5 269v1M554.5 270v1M555.5 270v1M556.5 271v1M557.5 272v1M558.5 272v1M559.5 273v1M560.5 274v1M561.5 274v1M562.5 275v1M563.5 275v1M564.5 276v1M565.5 276v1M566.5 277v1M567.5 277v1M568.5 278v1M569.5 278v1M570.5 279v1M571.5 279v1M572.5 280v1M573.5 280v1M574.5 281v1M575.5 281v1M576.5 281v1M577.5 282v1M578.5 282v1M579.5 282v1M580.5 283v1M581.5 283v1M582.5 283v1M583.5 284v1M584.5 284v1M585.5 285v1M586.5 285v1M587.5 285v1M588.5 286v1M589.5 286v1M590.5 286v1M591.5 287v1M592.5 287v1M593.5 287v1M594.5 287v1M595.5 287v1M596.5 288v1M597.5 288v1M598.5 288v1M599.5 288v1M600.5 288v1M601.5 288v1M602.5 288v1M603.5 289v1M604.5 289v1M605.5 290v1M606.5 290v1M607.5 291v1M608.5 291v1M609.5 291v1M610.5 292v1M611.5 292v1M612.5 293v1M613.5 293v1M614.5 294v1M615.5 294v1M616.5 295v1M617.5 295v1M618.5 295v1M619.5 296v1M620.5 296v1M621.5 297v1M622.5 297v1M623.5 298v1M624.5 298v1M625.5 299v1M626.5 299v1M627.5 300v1M628.5 300v1M629.5 301v1M630.5 301v1M631.5 302v1M632.5 302v1M633.5 303v1M634.5 303v1M635.5 304v1M636.5 305v1M637.5 306v1M638.5 307v1M639.5 308v1M640.5 309v1M641.5 310v1M642.5 311v1M643.5 312v1M644.5 313v1M645.5 314v1M646.5 315v2M647.5 317v1M648.5 318v1M649.5 319v2M650.5 321v1M651.5 322v2M652.5 324v1M653.5 325v1M654.5 326v2M655.5 328v1M656.5 329v2M657.5 331v1M658.5 332v2M659.5 334v1M660.5 335v2M661.5 337v1M662.5 338v2M663.5 340v1M664.5 341v2M665.5 343v2M666.5 345v1M667.5 346v2M668.5 348v2M669.5 350v2M670.5 352v1M671.5 353v2M672.5 355v2M673.5 357v2M674.5 359v1M675.5 360v2M676.5 362v2M677.5 364v1M678.5 365v2M679.5 367v1M680.5 368v2M681.5 370v2M682.5 372v1M683.5 373v2M684.5 375v1M685.5 376v1M686.5 377v2M687.5 379v1M688.5 380v1M689.5 381v1M690.5 382v1M691.5 383v1M692.5 384v1M693.5 385v1M694.5 386v1M695.5 387v1M696.5 388v1M697.5 389v1M698.5 390v1M699.5 391v1M700.5 392v1M701.5 393v1M702.5 393v1M703.5 394v1M704.5 395v1M705.5 395v1M706.5 395v1M707.5 396v1M708.5 396v1M709.5 396v1M710.5 396v1M711.5 397v1M712.5 397v1M713.5 397v1M714.5 397v1M715.5 396v1M716.5 396v1M717.5 396v1M718.5 396v1M719.5 396v1M720.5 395v1M721.5 395v1M722.5 395v1M723.5 395v1M724.5 396v1M725.5 396v1M726.5 397v1M727.5 397v1M728.5 397v1M729.5 398v1M730.5 398v1M731.5 399v1M732.5 399v1M733.5 399v1M734.5 400v1M735.5 400v1M736.5 401v1M737.5 401v1M738.5 402v1M739.5 402v1M740.5 403v1M741.5 403v1M742.5 404v1M743.5 404v1M744.5 405v1M745.5 405v1M746.5 406v1M747.5 406v1M748.5 407v1M749.5 407v1M750.5 408v1M751.5 408v1M752.5 409v1M753.5 409v1M754.5 410v1M755.5 411v1M756.5 411v1M757.5 412v1M758.5 412v1M759.5 413v1M760.5 413v1M761.5 414v1M762.5 415v1M763.5 415v1M764.5 416v1M765.5 417v1M766.5 417v1M767.5 418v1M768.5 419v1M769.5 419v1M770.5 420v1M771.5 421v1M772.5 422v1M773.5 422v1M774.5 423v1M775.5 424v1M776.5 425v1M777.5 425v1M778.5 426v1M779.5 427v1M780.5 428v1M781.5 429v1M782.5 430v1M783.5 431v1M784.5 432v1M785.5 432v1M786.5 433v1M787.5 434v1M788.5 435v1M789.5 435v1M790.5 436v1M791.5 437v1M792.5 437v1M793.5 438v1M794.5 438v1M795.5 438v1M796.5 438v1M797.5 439v1M798.5 439v1M799.5 439v1M800.5 439v1M801.5 439v1M802.5 439v1M803.5 439v1M804.5 438v1M805.5 438v1M806.5 437v1M807.5 437v1M808.5 436v1M809.5 436v1M810.5 435v1M811.5 435v1M812.5 435v1M813.5 434v1M814.5 434v1M815.5 434v1M816.5 433v1M817.5 433v1M818.5 432v1M819.5 431v1M820.5 431v1M821.5 430v1M822.5 430v1M823.5 429v1M824.5 428v1M825.5 427v1M826.5 427v1M827.5 426v1M828.5 425v1M829.5 424v1M830.5 424v1M831.5 423v1M832.5 422v1M833.5 422v1M834.5 421v1M835.5 421v1M836.5 421v1M837.5 420v1M838.5 420v1M839.5 420v1M840.5 419v1M841.5 419v1M842.5 419v1M843.5 418v1M844.5 418v1M845.5 418v1M846.5 417v1M847.5 417v1M848.5 417v1M849.5 416v1M850.5 416v1M851.5 415v1M852.5 415v1M853.5 415v1M854.5 414v1M855.5 414v1M856.5 413v1M857.5 413v1M858.5 412v1M859.5 412v1M860.5 412v1M861.5 411v1M862.5 411v1M863.5 410v1M864.5 410v1M865.5 410v1M866.5 410v1M867.5 409v1M868.5 409v1M869.5 409v1M870.5 408v1M871.5 408v1M872.5 408v1M873.5 407v1M874.5 407v1M875.5 407v1M876.5 406v1M877.5 406v1M878.5 406v1M879.5 405v1M880.5 405v1M881.5 405v1M882.5 405v1M883.5 404v1M884.5 403v1M885.5 402v1M886.5 401v1M887.5 400v1M888.5 399v1M889.5 398v1M890.5 397v1M891.5 396v1M892.5 396v1M893.5 395v1M894.5 394v1M895.5 392v2M896.5 391v1M897.5 390v1M898.5 389v1M899.5 387v2M900.5 386v1M901.5 385v1M902.5 384v1M903.5 382v2M904.5 381v1M905.5 380v1M906.5 379v1M907.5 377v2M908.5 376v1M909.5 375v1M910.5 374v1M911.5 373v1M912.5 371v2M913.5 370v1M914.5 369v1M915.5 368v1M916.5 367v1M917.5 366v1M918.5 364v2M919.5 363v1M920.5 362v1M921.5 361v1M922.5 360v1M923.5 359v1M924.5 358v1M925.5 357v1M926.5 356v1M927.5 355v1M928.5 354v1M929.5 353v1M930.5 352v1M931.5 351v1M932.5 350v1M933.5 349v1M934.5 348v1M935.5 347v1M936.5 346v1M937.5 345v1M938.5 344v1M939.5 343v1M940.5 342v1M941.5 341v1M942.5 340v1M943.5 339v1M944.5 338v1M945.5 337v1M946.5 337v1M947.5 336v1M948.5 335v1M949.5 334v1M950.5 333v1M951.5 332v1M952.5 332v1M953.5 331v1M954.5 330v1M955.5 329v1M956.5 329v1M957.5 329v1M958.5 328v1M959.5 328v1M960.5 327v1M961.5 327v1M962.5 327v1M963.5 326v1M964.5 326v1M965.5 326v1M966.5 325v1M967.5 325v1M968.5 324v1M969.5 324v1M970.5 324v1M971.5 323v1M972.5 323v1M973.5 323v1M974.5 322v1M975.5 322v1M976.5 321v1M977.5 320v1M978.5 319v1M979.5 318v1M980.5 317v1M981.5 317v1M982.5 316v1M983.5 315v1M984.5 314v1M985.5 313v1M986.5 312v1M987.5 312v1M988.5 311v1M989.5 310v1M990.5 309v1M991.5 308v1M992.5 307v1M993.5 306v1M994.5 305v1M995.5 304v1M996.5 303v1M997.5 302v1M998.5 301v1M999.5 300v1M1000.5 299v1M1001.5 298v1M1002.5 297v1M1003.5 296v1M1004.5 295v1M1005.5 294v1M1006.5 293v1M1007.5 292v1M1008.5 292v1M1009.5 291v1M1010.5 291v1M1011.5 290v1M1012.5 290v1M1013.5 289v1M1014.5 289v1M1015.5 288v1M1016.5 289v1M1017.5 289v1M1018.5 289v1M1019.5 289v1M1020.5 289v1M1021.5 289v1M1022.5 290v1M1023.5 290v1M1024.5 290v1M1025.5 290v1M1026.5 290v1M1027.5 291v1M1028.5 291v1M1029.5 291v1M1030.5 291v1M1031.5 291v1M1032.5 292v1M1033.5 292v1M1034.5 292v1M1035.5 292v1M1036.5 292v1M1037.5 293v1M1038.5 293v1M1039.5 293v1M1040.5 293v1M1041.5 294v1M1042.5 294v1M1043.5 294v1M1044.5 294v1M1045.5 295v1M1046.5 295v1M1047.5 295v1M1048.5 295v1M1049.5 296v1M1050.5 296v1M1051.5 297v1M1052.5 298v1M1053.5 298v1M1054.5 299v1M1055.5 300v1M1056.5 300v1M1057.5 301v1M1058.5 302v1M1059.5 302v1M1060.5 303v1M1061.5 304v1M1062.5 305v1M1063.5 305v1M1064.5 306v1M1065.5 307v1M1066.5 308v1M1067.5 309v1M1068.5 309v1M1069.5 310v1M1070.5 311v1M1071.5 312v1M1072.5 313v1M1073.5 313v1M1074.5 314v1M1075.5 315v1M1076.5 315v1M1077.5 316v1M1078.5 317v1M1079.5 317v1M1080.5 318v1M1081.5 318v1M1082.5 319v1M1083.5 319v1M1084.5 320v1M1085.5 321v1M1086.5 321v1M1087.5 322v1M1088.5 322v1M1089.5 323v1M1090.5 324v1M1091.5 324v1M1092.5 325v1M1093.5 326v1M1094.5 326v1M1095.5 327v1M1096.5 328v1M1097.5 328v1M1098.5 329v1M1099.5 330v1M1100.5 330v1M1101.5 331v1M1102.5 332v1M1103.5 332v1M1104.5 333v1M1105.5 333v1M1106.5 334v1M1107.5 334v1M1108.5 334v1M1109.5 335v1M1110.5 335v1M1111.5 335v1M1112.5 336v1M1113.5 336v1M1114.5 336v1M1115.5 337v1M1116.5 337v1M1117.5 337v1M1118.5 338v1M1119.5 338v1M1120.5 338v1M1121.5 338v1M1122.5 339v1M1123.5 339v1M1124.5 339v1M1125.5 339v1M1126.5 339v1M1127.5 339v1M1128.5 339v1M1129.5 339v1M1130.5 340v1M1131.5 340v1M1132.5 340v1M1133.5 340v1M1134.5 341v1M1135.5 341v1M1136.5 341v1M1137.5 341v1M1138.5 340v1M1139.5 340v1M1140.5 340v1M1141.5 340v1M1142.5 339v1M1143.5 339v1M1144.5 339v1M1145.5 338v1M1146.5 338v1M1147.5 338v1M1148.5 337v1M1149.5 337v1M1150.5 337v1M1151.5 336v1M1152.5 336v1M1153.5 336v1M1154.5 336v1M1155.5 336v1M1156.5 336v1M1157.5 336v1M1158.5 335v1M1159.5 335v1M1160.5 335v1M1161.5 335v1M1162.5 335v1M1163.5 334v1M1164.5 334v1M1165.5 333v1M1166.5 332v1M1167.5 331v1M1168.5 330v1M1169.5 329v1M1170.5 328v1M1171.5 328v1M1172.5 327v1M1173.5 326v1M1174.5 325v1M1175.5 324v1M1176.5 324v1M1177.5 323v1M1178.5 322v1M1179.5 320v2M1180.5 319v1M1181.5 318v1M1182.5 316v2M1183.5 315v1M1184.5 314v1M1185.5 313v1M1186.5 311v2M1187.5 310v1M1188.5 309v1M1189.5 308v1M1190.5 307v1M1191.5 307v1M1192.5 307v1M1193.5 305v2M1194.5 304v1M1195.5 302v2M1196.5 301v1M1197.5 300v1M1198.5 298v2M1199.5 297v1M1200.5 295v2M1201.5 294v1M1202.5 293v1M1203.5 291v2M1204.5 290v1M1205.5 289v1M1206.5 289v1M1207.5 288v1M1208.5 288v1M1209.5 287v1M1210.5 286v1M1211.5 285v1M1212.5 283v2M1213.5 282v1M1214.5 280v2M1215.5 279v1M1216.5 278v1M1217.5 276v2M1218.5 275v1M1219.5 274v1M1220.5 272v2M1221.5 271v1M1222.5 269v2M1223.5 268v1M1224.5 267v1M1225.5 266v1M1226.5 264v2M1227.5 263v1M1228.5 262v1M1229.5 261v1M1230.5 259v2M1231.5 258v1M1232.5 257v1M1233.5 256v1M1234.5 254v2M1235.5 253v1M1236.5 252v1M1237.5 251v1M1238.5 249v2M1239.5 248v1M1240.5 247v1M1241.5 246v1M1242.5 244v2M1243.5 242v2M1244.5 241v1M1245.5 239v2M1246.5 238v1M1247.5 236v2M1248.5 234v2M1249.5 233v1M1250.5 231v2M1251.5 230v1M1252.5 228v2M1253.5 226v2M1254.5 225v1M1255.5 224v1M1256.5 222v2M1257.5 221v1M1258.5 220v1M1259.5 218v2M1260.5 217v1M1261.5 216v1M1262.5 214v2M1263.5 213v1M1264.5 212v1M1265.5 210v2M1266.5 209v1M1267.5 208v1M1268.5 206v2M1269.5 205v1M1270.5 204v1M1271.5 203v1M1272.5 201v2M1273.5 200v1M1274.5 199v1M1275.5 198v1M1276.5 197v1M1277.5 196v1M1278.5 194v2M1279.5 193v1M1280.5 192v1M1281.5 191v1M1282.5 190v1M1283.5 189v1M1284.5 188v1M1285.5 187v1M1286.5 186v1M1287.5 185v1M1288.5 184v1M1289.5 183v1M1290.5 182v1M1291.5 181v1M1292.5 180v1M1293.5 179v1M1294.5 178v1M1295.5 177v1M1296.5 176v1M1297.5 175v1M1298.5 174v1M1299.5 173v1M1300.5 172v1M1301.5 171v1M1302.5 170v1M1303.5 169v1M1304.5 169v1M1305.5 168v1M1306.5 167v1M1307.5 166v1M1308.5 166v1M1309.5 165v1M1310.5 164v1M1311.5 163v1M1312.5 163v1M1313.5 162v1M1314.5 161v1M1315.5 160v1M1316.5 160v1M1317.5 159v1M1318.5 158v1M1319.5 157v1M1320.5 157v1M1321.5 156v1M1322.5 155v1M1323.5 154v1M1324.5 154v1M1325.5 153v1M1326.5 152v1M1327.5 151v1M1328.5 151v1M1329.5 150v1M1330.5 149v1M1331.5 149v1M1332.5 148v1M1333.5 147v1M1334.5 147v1M1335.5 146v1M1336.5 146v1M1337.5 145v1M1338.5 145v1M1339.5 144v1M1340.5 143v1M1341.5 143v1M1342.5 142v1M1343.5 142v1M1344.5 141v1M1345.5 140v1M1346.5 140v1M1347.5 139v1M1348.5 139v1M1349.5 138v1M1350.5 138v1M1351.5 137v1M1352.5 136v1M1353.5 136v1M1354.5 135v1M1355.5 135v1M1356.5 134v1M1357.5 133v1M1358.5 133v1M1359.5 132v1M1360.5 132v1M1361.5 131v1M1362.5 131v1M1363.5 131v1M1364.5 130v1M1365.5 130v1M1366.5 129v1M1367.5 129v1M1368.5 128v1M1369.5 128v1M1370.5 128v1M1371.5 127v1M1372.5 127v1M1373.5 126v1M1374.5 126v1M1375.5 125v1M1376.5 125v1M1377.5 125v1M1378.5 124v1M1379.5 124v1M1380.5 124v1M1381.5 124v1M1382.5 124v1M1383.5 123v1M1384.5 123v1M1385.5 123v1M1386.5 123v1M1387.5 123v1M1388.5 122v1M1389.5 122v1M1390.5 122v1M1391.5 121v1M1392.5 121v1M1393.5 120v1M1394.5 120v1M1395.5 119v1M1396.5 119v1M1397.5 118v1M1398.5 118v1M1399.5 117v1M1400.5 117v1M1401.5 116v1M1402.5 116v1M1403.5 115v1M1404.5 115v1M1405.5 114v1M1406.5 113v1M1407.5 113v1M1408.5 112v1M1409.5 111v1M1410.5 111v1M1411.5 110v1M1412.5 110v1M1413.5 109v1M1414.5 108v1M1415.5 108v1M1416.5 107v1M1417.5 107v1" fill="none" stroke="#3cb371" stroke-width="1"/>
<path d="M0.5 282v1M1.5 282v1M2.5 282v1M3.5 282v1M4.5 282v1M5.5 282v1M6.5 282v1M7.5 282v1M8.5 282v1M9.5 282v1M10.5 282v1M11.5 282v1M12.5 282v1M13.5 282v1M14.5 282v1M15.5 282v1M16.5 282v1M17.5 282v1M18.5 282v1M19.5 282v1M20.5 282v1M21.5 282v1M22.5 282v1M23.5 282v1M24.5 282v1M25.5 282v1M26.5 282v1M27.5 282v1M28.5 282v1M29.5 282v1M30.5 282v1M31.5 282v1M32.5 282v1M33.5 282v1M34.5 282v1M35.5 282v1M36.5 282v1M37.5 282v1M38.5 282v1M39.5 282v1M40.5 282v1M41.5 282v1M42.5 282v1M43.5 282v1M44.5 282v1M45.5 282v1M46.5 282v1M47.5 282v1M48.5 282v1M49.5 283v1M50.5 283v1M51.5 283v1M52.5 283v1M53.5 284v1M54.5 284v1M55.5 284v1M56.5 284v1M57.5 285v1M58.5 285v1M59.5 286v1M60.5 287v1M61.5 287v1M62.5 288v1M63.5 289v1M64.5 289v1M65.5 290v2M66.5 292v1M67.5 293v2M68.5 295v1M69.5 296v2M70.5 298v1M71.5 299v2M72.5 301v1M73.5 302v2M74.5 304v1M75.5 305v1M76.5 306v2M77.5 308v1M78.5 309v1M79.5 310v1M80.5 311v2M81.5 313v1M82.5 314v1M83.5 315v1M84.5 316v1M85.5 317v1M86.5 318v1M87.5 319v1M88.5 320v1M89.5 321v1M90.5 322v1M91.5 323v1M92.5 324v1M93.5 325v1M94.5 326v1M95.5 327v1M96.5 328v1M97.5 329v1M98.5 329v1M99.5 329v1M100.5 329v1M101.5 329v1M102.5 329v1M103.5 329v1M104.5 329v1M105.5 328v1M106.5 328v1M107.5 328v1M108.5 328v1M109.5 328v1M110.5 328v1M111.5 328v1M112.5 328v1M113.5 328v1M114.5 328v1M115.5 328v1M116.5 327v1M117.5 327v1M118.5 327v1M119.5 327v1M120.5 326v1M121.5 326v1M122.5 326v1M123.5 326v1M124.5 326v1M125.5 326v1M126.5 326v1M127.5 326v1M128.5 326v1M129.5 326v1M130.5 326v1M131.5 326v1M132.5 326v1M133.5 326v1M134.5 326v1M135.5 326v1M136.5 326v1M137.5 326v1M138.5 326v1M139.5 326v1M140.5 326v1M141.5 326v1M142.5 327v1M143.5 327v1M144.5 328v1M145.5 328v1M146.5 328v1M147.5 329v1M148.5 329v1M149.5 330v1M150.5 330v1M151.5 331v1M152.5 331v1M153.5 331v1M154.5 332v1M155.5 332v1M156.5 332v1M157.5 333v1M158.5 333v1M159.5 333v1M160.5 333v1M161.5 334v1M162.5 334v1M163.5 334v1M164.5 334v1M165.5 335v1M166.5 335v1M167.5 335v1M168.5 335v1M169.5 335v1M170.5 335v1M171.5 335v1M172.5 335v1M173.5 335v1M174.5 335v1M175.5 335v1M176.5 335v1M177.5 335v1M178.5 335v1M179.5 334v1M180.5 334v1M181.5 333v1M182.5 333v1M183.5 332v1M184.5 332v1M185.5 331v1M186.5 331v1M187.5 331v1M188.5 330v1M189.5 330v1M190.5 329v1M191.5 329v1M192.5 328v1M193.5 328v1M194.5 328v1M195.5 328v1M196.5 328v1M197.5 328v1M198.5 328v1M199.5 328v1M200.5 328v1M201.5 328v1M202.5 328v1M203.5 328v1M204.5 328v1M205.5 328v1M206.5 328v1M207.5 328v1M208.5 328v1M209.5 328v1M210.5 328v1M211.5 329v1M212.5 329v1M213.5 330v1M214.5 331v1M215.5 331v1M216.5 332v1M217.5 333v1M218.5 333v1M219.5 334v1M220.5 335v1M221.5 336v1M222.5 337v1M223.5 338v1M224.5 339v1M225.5 340v1M226.5 341v1M227.5 342v3M228.5 345v3M229.5 348v3M230.5 351v3M231.5 354v3M232.5 357v3M233.5 360v3M234.5 363v3M235.5 366v3M236.5 369v4M237.5 373v3M238.5 376v3M239.5 379v3M240.5 382v4M241.5 386v3M242.5 389v3M243.5 392v3M244.5 395v4M245.5 399v4M246.5 403v3M247.5 406v4M248.5 410v4M249.5 414v4M250.5 418v3M251.5 421v4M252.5 425v4M253.5 429v4M254.5 433v3M255.5 436v3M256.5 439v3M257.5 442v3M258.5 445v3M259.5 448v3M260.5 451v3M261.5 454v3M262.5 457v3M263.5 460v3M264.5 463v3M265.5 466v2M266.5 468v2M267.5 470v2M268.5 472v3M269.5 475v2M270.5 477v2M271.5 479v2M272.5 481v3M273.5 484v2M274.5 486v1M275.5 486v1M276.5 487v1M277.5 488v1M278.5 488v1M279.5 489v1M280.5 490v1M281.5 490v1M282.5 491v1M283.5 491v1M284.5 491v1M285.5 492v1M286.5 492v1M287.5 492v1M288.5 492v1M289.5 493v1M290.5 493v1M291.5 493v1M292.5 493v1M293.5 494v1M294.5 494v1M295.5 494v1M296.5 494v1M297.5 495v1M298.5 495v1M299.5 496v1M300.5 497v1M301.5 497v1M302.5 498v1M303.5 499v1M304.5 500v1M305.5 500v1M306.5 501v2M307.5 503v2M308.5 505v2M309.5 507v2M310.5 509v1M311.5 510v2M312.5 512v2M313.5 514v2M314.5 516v1M315.5 517v2M316.5 519v1M317.5 520v2M318.5 522v1M319.5 523v2M320.5 525v1M321.5 526v1M322.5 527v1M323.5 527v1M324.5 528v1M325.5 529v1M326.5 530v1M327.5 531v1M328.5 531v1M329.5 532v1M330.5 533v1M331.5 533v1M332.5 533v1M333.5 533v1M334.5 533v1M335.5 533v1M336.5 533v1M337.5 533v1M338.5 532v1M339.5 531v1M340.5 530v1M341.5 529v1M342.5 529v1M343.5 528v1M344.5 527v1M345.5 526v1M346.5 525v1M347.5 525v1M348.5 524v1M349.5 523v1M350.5 522v1M351.5 521v1M352.5 520v1M353.5 520v1M354.5 519v1M355.5 518v1M356.5 518v1M357.5 517v1M358.5 517v1M359.5 516v1M360.5 516v1M361.5 515v1M362.5 515v1M363.5 514v1M364.5 513v1M365.5 512v1M366.5 512v1M367.5 511v1M368.5 510v1M369.5 509v1M370.5 509v1M371.5 508v1M372.5 507v1M373.5 507v1M374.5 507v1M375.5 506v1M376.5 506v1M377.5 506v1M378.5 506v1M379.5 505v1M380.5 505v1M381.5 505v1M382.5 505v1M383.5 505v1M384.5 505v1M385.5 505v1M386.5 506v1M387.5 506v1M388.5 506v1M389.5 506v1M390.5 507v1M391.5 507v1M392.5 507v1M393.5 508v2M394.5 510v1M395.5 511v2M396.5 513v1M397.5 514v2M398.5 516v1M399.5 517v1M400.5 518v2M401.5 520v1M402.5 520v1M403.5 521v1M404.5 521v1M405.5 522v1M406.5 522v1M407.5 523v1M408.5 523v1M409.5 524v1M410.5 524v1M411.5 523v1M412.5 523v1M413.5 523v1M414.5 522v1M415.5 522v1M416.5 522v1M417.5 521v1M418.5 521v1M419.5 521v1M420.5 520v1M421.5 520v1M422.5 520v1M423.5 519v1M424.5 518v1M425.5 518v1M426.5 517v1M427.5 516v1M428.5 516v1M429.5 515v1M430.5 515v1M431.5 514v1M432.5 513v1M433.5 513v1M434.5 512v1M435.5 512v1M436.5 511v1M437.5 510v1M438.5 510v1M439.5 509v1M440.5 509v1M441.5 509v1M442.5 509v1M443.5 509v1M444.5 509v1M445.5 509v1M446.5 509v1M447.5 509v1M448.5 509v1M449.5 509v1M450.5 509v1M451.5 509v1M452.5 509v1M453.5 509v1M454.5 509v1M455.5 509v1M456.5 509v1M457.5 509v1M458.5 508v1M459.5 507v1M460.5 506v1M461.5 506v1M462.5 505v1M463.5 504v1M464.5 503v1M465.5 502v1M466.5 502v1M467.5 500v2M468.5 497v3M469.5 495v2M470.5 493v2M471.5 491v2M472.5 489v2M473.5 487v2M474.5 484v3M475.5 481v3M476.5 478v3M477.5 475v3M478.5 472v3M479.5 469v3M480.5 466v3M481.5 463v3M482.5 460v3M483.5 457v3M484.5 454v3M485.5 451v3M486.5 448v3M487.5 445v3M488.5 442v3M489.5 439v3M490.5 436v3M491.5 433v3M492.5 430v3M493.5 427v3M494.5 424v3M495.5 421v3M496.5 419v2M497.5 416v3M498.5 413v3M499.5 410v3M500.5 408v2M501.5 405v3M502.5 402v3M503.5 399v3M504.5 397v2M505.5 396v1M506.5 395v1M507.5 394v1M508.5 393v1M509.5 391v2M510.5 390v1M511.5 388v2M512.5 385v3M513.5 383v2M514.5 381v2M515.5 379v2M516.5 376v3M517.5 374v2M518.5 372v2M519.5 369v3M520.5 367v2M521.5 365v2M522.5 363v2M523.5 361v2M524.5 358v3M525.5 356v2M526.5 354v2M527.5 352v2M528.5 350v2M529.5 347v3M530.5 345v2M531.5 343v2M532.5 341v2M533.5 340v1M534.5 338v2M535.5 337v1M536.5 335v2M537.5 333v2M538.5 332v1M539.5 330v2M540.5 329v1M541.5 327v2M542.5 325v2M543.5 324v1M544.5 322v2M545.5 321v1M546.5 320v1M547.5 321v1M548.5 322v1M549.5 323v1M550.5 324v1M551.5 325v1M552.5 326v2M553.5 328v3M554.5 331v2M555.5 333v3M556.5 336v2M557.5 338v3M558.5 341v2M559.5 343v2M560.5 345v2M561.5 347v2M562.5 349v2M563.5 351v2M564.5 353v2M565.5 355v2M566.5 357v2M567.5 359v1M568.5 360v2M569.5 362v2M570.5 364v1M571.5 365v1M572.5 366v1M573.5 367v1M574.5 368v1M575.5 369v2M576.5 371v1M577.5 372v1M578.5 373v1M579.5 374v1M580.5 375v1M581.5 375v1M582.5 376v1M583.5 376v1M584.5 377v1M585.5 377v1M586.5 378v1M587.5 378v1M588.5 379v1M589.5 379v1M590.5 380v1M591.5 380v1M592.5 381v1M593.5 382v1M594.5 382v1M595.5 383v1M596.5 384v1M597.5 385v1M598.5 386v1M599.5 387v1M600.5 388v1M601.5 389v1M602.5 390v1M603.5 391v1M604.5 392v1M605.5 393v1M606.5 394v1M607.5 395v1M608.5 396v1M609.5 397v1M610.5 397v1M611.5 398v1M612.5 398v1M613.5 399v1M614.5 399v1M615.5 400v1M616.5 400v1M617.5 401v1M618.5 401v1M619.5 402v1M620.5 402v1M621.5 403v1M622.5 403v1M623.5 404v1M624.5 404v1M625.5 405v1M626.5 405v1M627.5 405v1M628.5 405v1M629.5 405v1M630.5 405v1M631.5 405v1M632.5 405v1M633.5 406v1M634.5 406v1M635.5 406v1M636.5 406v1M637.5 406v1M638.5 406v1M639.5 406v1M640.5 406v1M641.5 407v2M642.5 409v2M643.5 411v2M644.5 413v2M645.5 415v2M646.5 417v3M647.5 420v3M648.5 423v3M649.5 426v3M650.5 429v3M651.5 432v3M652.5 435v3M653.5 438v3M654.5 441v3M655.5 444v3M656.5 447v3M657.5 450v3M658.5 453v3M659.5 456v3M660.5 459v4M661.5 463v3M662.5 466v2M663.5 468v3M664.5 471v3M665.5 474v3M666.5 477v2M667.5 479v3M668.5 482v3M669.5 485v2M670.5 487v4M671.5 491v4M672.5 495v4M673.5 499v4M674.5 503v4M675.5 507v4M676.5 511v4M677.5 515v2M678.5 517v3M679.5 520v3M680.5 523v3M681.5 526v3M682.5 529v2M683.5 531v2M684.5 533v1M685.5 534v1M686.5 535v2M687.5 537v1M688.5 538v1M689.5 539v1M690.5 540v1M691.5 540v1M692.5 540v1M693.5 540v1M694.5 540v1M695.5 540v1M696.5 541v1M697.5 541v1M698.5 540v1M699.5 540v1M700.5 539v1M701.5 539v1M702.5 538v1M703.5 538v1M704.5 537v1M705.5 537v1M706.5 537v1M707.5 537v1M708.5 537v1M709.5 537v1M710.5 537v1M711.5 537v1M712.5 537v1M713.5 537v1M714.5 537v1M715.5 537v1M716.5 537v1M717.5 537v1M718.5 537v1M719.5 537v1M720.5 537v1M721.5 537v1M722.5 537v1M723.5 537v1M724.5 537v1M725.5 537v1M726.5 537v1M727.5 537v1M728.5 537v1M729.5 537v1M730.5 538v1M731.5 538v1M732.5 538v1M733.5 538v1M734.5 538v1M735.5 538v1M736.5 538v1M737.5 539v1M738.5 539v1M739.5 539v1M740.5 539v1M741.5 539v1M742.5 539v1M743.5 539v1M744.5 539v1M745.5 540v1M746.5 540v1M747.5 541v1M748.5 541v1M749.5 542v1M750.5 542v1M751.5 543v1M752.5 543v1M753.5 544v1M754.5 544v1M755.5 545v1M756.5 545v1M757.5 546v1M758.5 546v1M759.5 547v1M760.5 547v1M761.5 547v1M762.5 548v1M763.5 548v1M764.5 548v1M765.5 549v1M766.5 549v1M767.5 549v1M768.5 550v1M769.5 550v1M770.5 550v1M771.5 550v1M772.5 551v1M773.5 551v1M774.5 551v1M775.5 551v1M776.5 551v1M777.5 551v1M778.5 551v1M779.5 551v1M780.5 551v1M781.5 551v1M782.5 551v1M783.5 551v1M784.5 550v1M785.5 550v1M786.5 550v1M787.5 548v2M788.5 547v1M789.5 546v1M790.5 545v1M791.5 543v2M792.5 542v1M793.5 541v1M794.5 541v1M795.5 540v1M796.5 540v1M797.5 540v1M798.5 539v1M799.5 539v1M800.5 539v1M801.5 539v1M802.5 539v1M803.5 539v1M804.5 539v1M805.5 538v1M806.5 538v1M807.5 538v1M808.5 538v1M809.5 538v1M810.5 538v1M811.5 537v1M812.5 537v1M813.5 536v1M814.5 535v1M815.5 535v1M816.5 534v1M817.5 533v1M818.5 533v1M819.5 532v1M820.5 532v1M821.5 531v1M822.5 530v1M823.5 530v1M824.5 529v1M825.5 529v1M826.5 526v3M827.5 524v2M828.5 521v3M829.5 519v2M830.5 517v2M831.5 514v3M832.5 512v2M833.5 509v3M834.5 507v2M835.5 504v3M836.5 502v2M837.5 499v3M838.5 496v3M839.5 494v2M840.5 491v3M841.5 489v2M842.5 488v1M843.5 487v1M844.5 487v1M845.5 486v1M846.5 486v1M847.5 485v1M848.5 485v1M849.5 484v1M850.5 484v1M851.5 484v1M852.5 484v1M853.5 484v1M854.5 484v1M855.5 484v1M856.5 484v1M857.5 484v1M858.5 484v1M859.5 484v1M860.5 485v1M861.5 485v1M862.5 486v1M863.5 486v1M864.5 487v1M865.5 488v1M866.5 488v1M867.5 489v1M868.5 489v1M869.5 490v1M870.5 490v1M871.5 491v1M872.5 492v1M873.5 492v1M874.5 493v1M875.5 494v1M876.5 494v1M877.5 495v1M878.5 496v1M879.5 496v1M880.5 497v1M881.5 498v1M882.5 498v1M883.5 499v1M884.5 500v1M885.5 500v1M886.5 501v1M887.5 502v1M888.5 503v2M889.5 505v2M890.5 507v1M891.5 508v2M892.5 510v2M893.5 512v1M894.5 513v2M895.5 515v2M896.5 517v1M897.5 518v1M898.5 519v1M899.5 519v1M900.5 520v1M901.5 520v1M902.5 520v1M903.5 521v1M904.5 521v1M905.5 522v1M906.5 522v1M907.5 521v1M908.5 521v1M909.5 520v1M910.5 519v1M911.5 519v1M912.5 518v1M913.5 517v1M914.5 517v1M915.5 516v1M916.5 516v1M917.5 515v1M918.5 514v1M919.5 513v1M920.5 512v1M921.5 511v1M922.5 509v2M923.5 508v1M924.5 507v1M925.5 506v1M926.5 505v1M927.5 504v1M928.5 503v1M929.5 502v1M930.5 501v1M931.5 500v1M932.5 498v2M933.5 497v1M934.5 496v1M935.5 494v2M936.5 492v2M937.5 490v2M938.5 488v2M939.5 486v2M940.5 484v2M941.5 483v1M942.5 481v2M943.5 479v2M944.5 477v2M945.5 475v2M946.5 473v2M947.5 472v1M948.5 471v1M949.5 470v1M950.5 468v2M951.5 467v1M952.5 466v1M953.5 465v1M954.5 464v1M955.5 463v1M956.5 463v1M957.5 462v1M958.5 462v1M959.5 462v1M960.5 461v1M961.5 461v1M962.5 461v1M963.5 460v1M964.5 459v1M965.5 458v1M966.5 458v1M967.5 457v1M968.5 456v1M969.5 455v1M970.5 454v1M971.5 454v1M972.5 453v1M973.5 452v1M974.5 451v1M975.5 450v1M976.5 449v1M977.5 447v2M978.5 446v1M979.5 445v1M980.5 444v1M981.5 442v2M982.5 441v1M983.5 440v1M984.5 438v2M985.5 436v2M986.5 433v3M987.5 431v2M988.5 428v3M989.5 426v2M990.5 423v3M991.5 421v2M992.5 417v4M993.5 414v3M994.5 411v3M995.5 408v3M996.5 405v3M997.5 401v4M998.5 397v4M999.5 391v6M1000.5 386v5M1001.5 381v5M1002.5 377v4M1003.5 374v3M1004.5 371v3M1005.5 368v3M1006.5 365v3M1007.5 362v3M1008.5 358v4M1009.5 356v2M1010.5 355v1M1011.5 355v1M1012.5 354v1M1013.5 353v1M1014.5 353v1M1015.5 352v1M1016.5 351v1M1017.5 351v1M1018.5 352v1M1019.5 353v1M1020.5 354v1M1021.5 355v2M1022.5 357v1M1023.5 358v1M1024.5 359v1M1025.5 360v1M1026.5 361v1M1027.5 362v1M1028.5 363v1M1029.5 364v1M1030.5 365v1M1031.5 366v1M1032.5 367v1M1033.5 368v1M1034.5 369v1M1035.5 370v1M1036.5 370v1M1037.5 371v1M1038.5 371v1M1039.5 371v1M1040.5 372v1M1041.5 372v1M1042.5 373v1M1043.5 373v1M1044.5 373v1M1045.5 374v1M1046.5 374v1M1047.5 375v1M1048.5 375v1M1049.5 376v1M1050.5 377v1M1051.5 378v1M1052.5 378v1M1053.5 379v1M1054.5 380v1M1055.5 381v1M1056.5 381v1M1057.5 382v1M1058.5 383v1M1059.5 384v1M1060.5 385v1M1061.5 386v1M1062.5 387v1M1063.5 388v1M1064.5 389v1M1065.5 390v1M1066.5 391v1M1067.5 392v1M1068.5 393v1M1069.5 393v1M1070.5 394v1M1071.5 394v1M1072.5 395v1M1073.5 396v1M1074.5 396v1M1075.5 397v1M1076.5 397v1M1077.5 398v1M1078.5 399v1M1079.5 399v1M1080.5 400v1M1081.5 401v1M1082.5 401v1M1083.5 402v1M1084.5 403v1M1085.5 403v1M1086.5 404v1M1087.5 404v1M1088.5 404v1M1089.5 404v1M1090.5 405v1M1091.5 406v1M1092.5 407v1M1093.5 408v1M1094.5 408v1M1095.5 409v1M1096.5 410v1M1097.5 411v1M1098.5 412v1M1099.5 413v1M1100.5 413v1M1101.5 413v1M1102.5 414v1M1103.5 414v1M1104.5 414v1M1105.5 414v1M1106.5 414v1M1107.5 414v1M1108.5 414v1M1109.5 415v1M1110.5 415v1M1111.5 415v1M1112.5 415v1M1113.5 415v1M1114.5 415v1M1115.5 415v1M1116.5 415v1M1117.5 415v1M1118.5 414v1M1119.5 414v1M1120.5 414v1M1121.5 414v1M1122.5 414v1M1123.5 414v1M1124.5 414v1M1125.5 414v1M1126.5 414v1M1127.5 414v1M1128.5 413v1M1129.5 413v1M1130.5 413v1M1131.5 413v1M1132.5 413v1M1133.5 412v1M1134.5 412v1M1135.5 412v1M1136.5 412v1M1137.5 412v1M1138.5 412v1M1139.5 413v1M1140.5 414v1M1141.5 415v1M1142.5 416v1M1143.5 416v1M1144.5 417v1M1145.5 418v1M1146.5 419v1M1147.5 420v1M1148.5 420v1M1149.5 421v1M1150.5 422v1M1151.5 423v1M1152.5 424v1M1153.5 424v1M1154.5 425v1M1155.5 425v1M1156.5 425v1M1157.5 426v1M1158.5 426v1M1159.5 426v1M1160.5 426v1M1161.5 427v1M1162.5 428v1M1163.5 429v1M1164.5 429v1M1165.5 430v1M1166.5 431v1M1167.5 432v1M1168.5 433v1M1169.5 434v1M1170.5 435v1M1171.5 436v1M1172.5 436v1M1173.5 437v1M1174.5 438v1M1175.5 438v1M1176.5 439v1M1177.5 440v1M1178.5 440v1M1179.5 440v1M1180.5 440v1M1181.5 440v1M1182.5 440v1M1183.5 440v1M1184.5 440v1M1185.5 440v1M1186.5 440v1M1187.5 440v1M1188.5 440v1M1189.5 440v1M1190.5 441v1M1191.5 441v1M1192.5 442v1M1193.5 442v1M1194.5 443v1M1195.5 443v1M1196.5 443v1M1197.5 444v1M1198.5 444v1M1199.5 445v1M1200.5 445v1M1201.5 446v1M1202.5 446v1M1203.5 447v1M1204.5 447v1M1205.5 447v1M1206.5 448v1M1207.5 448v1M1208.5 449v1M1209.5 449v1M1210.5 449v1M1211.5 449v1M1212.5 448v1M1213.5 447v1M1214.5 447v1M1215.5 446v1M1216.5 446v1M1217.5 445v1M1218.5 444v1M1219.5 442v2M1220.5 441v1M1221.5 440v1M1222.5 439v1M1223.5 438v1M1224.5 436v2M1225.5 435v1M1226.5 433v2M1227.5 432v1M1228.5 430v2M1229.5 429v1M1230.5 427v2M1231.5 426v1M1232.5 424v2M1233.5 423v1M1234.5 421v2M1235.5 419v2M1236.5 418v1M1237.5 416v2M1238.5 414v2M1239.5 413v1M1240.5 411v2M1241.5 409v2M1242.5 408v1M1243.5 406v2M1244.5 404v2M1245.5 403v1M1246.5 401v2M1247.5 399v2M1248.5 398v1M1249.5 395v3M1250.5 392v3M1251.5 388v4M1252.5 385v3M1253.5 381v4M1254.5 378v3M1255.5 374v4M1256.5 371v3M1257.5 367v4M1258.5 364v3M1259.5 361v3M1260.5 358v3M1261.5 355v3M1262.5 351v4M1263.5 348v3M1264.5 345v3M1265.5 342v3M1266.5 339v3M1267.5 335v4M1268.5 332v3M1269.5 329v3M1270.5 326v3M1271.5 323v3M1272.5 319v4M1273.5 316v3M1274.5 313v3M1275.5 310v3M1276.5 307v3M1277.5 303v4M1278.5 300v3M1279.5 297v3M1280.5 294v3M1281.5 291v3M1282.5 288v3M1283.5 285v3M1284.5 282v3M1285.5 279v3M1286.5 276v3M1287.5 273v3M1288.5 270v3M1289.5 267v3M1290.5 264v3M1291.5 261v3M1292.5 259v2M1293.5 257v2M1294.5 255v2M1295.5 253v2M1296.5 251v2M1297.5 249v2M1298.5 247v2M1299.5 245v2M1300.5 244v1M1301.5 242v2M1302.5 240v2M1303.5 239v1M1304.5 237v2M1305.5 236v1M1306.5 235v1M1307.5 233v2M1308.5 232v1M1309.5 231v1M1310.5 229v2M1311.5 228v1M1312.5 227v1M1313.5 225v2M1314.5 224v1M1315.5 223v1M1316.5 221v2M1317.5 220v1M1318.5 219v1M1319.5 217v2M1320.5 216v1M1321.5 215v1M1322.5 214v1M1323.5 213v1M1324.5 212v1M1325.5 211v1M1326.5 209v2M1327.5 208v1M1328.5 207v1M1329.5 206v1M1330.5 205v1M1331.5 204v1M1332.5 203v1M1333.5 201v2M1334.5 200v1M1335.5 199v1M1336.5 198v1M1337.5 197v1M1338.5 196v1M1339.5 196v1M1340.5 195v1M1341.5 195v1M1342.5 194v1M1343.5 194v1M1344.5 193v1M1345.5 193v1M1346.5 192v1M1347.5 192v1M1348.5 191v1M1349.5 191v1M1350.5 191v1M1351.5 191v1M1352.5 191v1M1353.5 191v1M1354.5 191v1M1355.5 191v1M1356.5 191v1M1357.5 191v1M1358.5 191v1M1359.5 190v1M1360.5 190v1M1361.5 190v1M1362.5 190v1M1363.5 190v1M1364.5 190v1M1365.5 190v1M1366.5 190v1M1367.5 190v1M1368.5 190v1M1369.5 190v1M1370.5 189v1M1371.5 189v1M1372.5 188v1M1373.5 188v1M1374.5 188v1M1375.5 187v1M1376.5 187v1M1377.5 186v1M1378.5 186v1M1379.5 186v1M1380.5 185v1M1381.5 185v1M1382.5 184v1M1383.5 184v1M1384.5 183v1M1385.5 183v1M1386.5 182v1M1387.5 181v1M1388.5 180v1M1389.5 179v1M1390.5 178v1M1391.5 177v1M1392.5 177v1M1393.5 176v1M1394.5 175v1M1395.5 174v1M1396.5 173v1M1397.5 172v1M1398.5 172v1M1399.5 171v1M1400.5 171v1M1401.5 170v1M1402.5 170v1M1403.5 169v1M1404.5 169v1M1405.5 168v1M1406.5 168v1M1407.5 167v1M1408.5 166v1M1409.5 166v1M1410.5 165v1M1411.5 164v1M1412.5 163v1M1413.5 163v1M1414.5 162v1M1415.5 161v1M1416.5 160v1M1417.5 160v1" fill="none" stroke="#3cb371" stroke-width="1"/>
<rect x="435" y="196" width="62" height="19" fill="#ff0000"/><rect x="436" y="197" width="60" height="17" fill="#fff"/>
<rect x="827" y="215" width="62" height="19" fill="#ff0000"/><rect x="828" y="216" width="60" height="17" fill="#fff"/>
<rect x="611" y="559" width="62" height="19" fill="#ff0000"/><rect x="612" y="560" width="60" height="17" fill="#fff"/>
<rect x="1027" y="419" width="62" height="19" fill="#ff0000"/><rect x="1028" y="420" width="60" height="17" fill="#fff"/>
<rect x="1283" y="55" width="62" height="19" fill="#ff0000"/><rect x="1284" y="56" width="60" height="17" fill="#fff"/>
<rect x="1125" y="74" width="74" height="25" fill="#ff0000"/><rect x="1126" y="75" width="72" height="23" fill="#fff"/>
<rect x="1122" y="84" width="3" height="5" fill="#ff0000"/><rect x="1123" y="85" width="1" height="3" fill="#fff"/>
<rect x="2" y="228" width="1" height="24" fill="#000"/>
<rect x="0" y="236" width="5" height="9" fill="#000"/>
<rect x="1" y="237" width="3" height="7" fill="#fff"/>
<rect x="10" y="205" width="1" height="39" fill="#000"/>
<rect x="8" y="229" width="5" height="7" fill="#000"/>
<rect x="9" y="230" width="3" height="5" fill="#fff"/>
<rect x="18" y="220" width="1" height="44" fill="#000"/>
<rect x="16" y="221" width="5" height="8" fill="#000"/>
<rect x="17" y="222" width="3" height="6" fill="#fff"/>
<rect x="26" y="203" width="1" height="19" fill="#000"/>
<rect x="24" y="208" width="5" height="12" fill="#000"/>
<rect x="25" y="209" width="3" height="10" fill="#fff"/>
<rect x="34" y="198" width="1" height="17" fill="#000"/>
<rect x="32" y="203" width="5" height="7" fill="#000"/>
<rect x="33" y="204" width="3" height="5" fill="#fff"/>
<rect x="42" y="200" width="1" height="32" fill="#000"/>
<rect x="40" y="203" width="5" height="13" fill="#000"/>
<rect x="50" y="205" width="1" height="35" fill="#000"/>
<rect x="48" y="215" width="5" height="17" fill="#000"/>
<rect x="58" y="185" width="1" height="89" fill="#000"/>
<rect x="56" y="231" width="5" height="31" fill="#000"/>
<rect x="66" y="253" width="1" height="53" fill="#000"/>
<rect x="64" y="262" width="5" height="24" fill="#000"/>
<rect x="74" y="282" width="1" height="34" fill="#000"/>
<rect x="72" y="286" width="5" height="18" fill="#000"/>
<rect x="82" y="296" width="1" height="24" fill="#000"/>
<rect x="80" y="303" width="5" height="1" fill="#000"/>
<rect x="90" y="294" width="1" height="20" fill="#000"/>
<rect x="88" y="302" width="5" height="6" fill="#000"/>
<rect x="98" y="294" width="1" height="32" fill="#000"/>
<rect x="96" y="309" width="5" height="9" fill="#000"/>
<rect x="106" y="284" width="1" height="52" fill="#000"/>
<rect x="104" y="290" width="5" height="27" fill="#000"/>
<rect x="105" y="291" width="3" height="25" fill="#fff"/>
<rect x="114" y="245" width="1" height="53" fill="#000"/>
<rect x="112" y="259" width="5" height="31" fill="#000"/>
<rect x="113" y="260" width="3" height="29" fill="#fff"/>
<rect x="122" y="250" width="1" height="14" fill="#000"/>
<rect x="120" y="256" width="5" height="3" fill="#000"/>
<rect x="121" y="257" width="3" height="1" fill="#fff"/>
<rect x="130" y="251" width="1" height="19" fill="#000"/>
<rect x="128" y="255" width="5" height="13" fill="#000"/>
<rect x="138" y="255" width="1" height="17" fill="#000"/>
<rect x="136" y="261" width="5" height="7" fill="#000"/>
<rect x="137" y="262" width="3" height="5" fill="#fff"/>
<rect x="146" y="256" width="1" height="16" fill="#000"/>
<rect x="144" y="261" width="5" height="9" fill="#000"/>
<rect x="154" y="231" width="1" height="97" fill="#000"/>
<rect x="152" y="270" width="5" height="34" fill="#000"/>
<rect x="162" y="253" width="1" height="57" fill="#000"/>
<rect x="160" y="278" width="5" height="26" fill="#000"/>
<rect x="161" y="279" width="3" height="24" fill="#fff"/>
<rect x="170" y="276" width="1" height="16" fill="#000"/>
<rect x="168" y="277" width="5" height="11" fill="#000"/>
<rect x="178" y="273" width="1" height="23" fill="#000"/>
<rect x="176" y="277" width="5" height="11" fill="#000"/>
<rect x="177" y="278" width="3" height="9" fill="#fff"/>
<rect x="186" y="258" width="1" height="21" fill="#000"/>
<rect x="184" y="269" width="5" height="9" fill="#000"/>
<rect x="185" y="270" width="3" height="7" fill="#fff"/>
<rect x="194" y="268" width="1" height="36" fill="#000"/>
<rect x="192" y="269" width="5" height="24" fill="#000"/>
<rect x="202" y="272" width="1" height="62" fill="#000"/>
<rect x="200" y="292" width="5" height="28" fill="#000"/>
<rect x="210" y="300" width="1" height="33" fill="#000"/>
<rect x="208" y="318" width="5" height="3" fill="#000"/>
<rect x="209" y="319" width="3" height="1" fill="#fff"/>
<rect x="218" y="319" width="1" height="17" fill="#000"/>
<rect x="216" y="319" width="5" height="9" fill="#000"/>
<rect x="226" y="333" width="1" height="16" fill="#000"/>
<rect x="224" y="335" width="5" height="3" fill="#000"/>
<rect x="225" y="336" width="3" height="1" fill="#fff"/>
<rect x="234" y="331" width="1" height="78" fill="#000"/>
<rect x="232" y="335" width="5" height="57" fill="#000"/>
<rect x="242" y="384" width="1" height="50" fill="#000"/>
<rect x="240" y="391" width="5" height="36" fill="#000"/>
<rect x="250" y="416" width="1" height="53" fill="#000"/>
<rect x="248" y="426" width="5" height="38" fill="#000"/>
<rect x="258" y="403" width="1" height="79" fill="#000"/>
<rect x="256" y="465" width="5" height="1" fill="#000"/>
<rect x="266" y="458" width="1" height="90" fill="#000"/>
<rect x="264" y="465" width="5" height="1" fill="#000"/>
<rect x="274" y="443" width="1" height="43" fill="#000"/>
<rect x="272" y="443" width="5" height="24" fill="#000"/>
<rect x="273" y="444" width="3" height="22" fill="#fff"/>
<rect x="282" y="406" width="1" height="45" fill="#000"/>
<rect x="280" y="407" width="5" height="37" fill="#000"/>
<rect x="281" y="408" width="3" height="35" fill="#fff"/>
<rect x="290" y="374" width="1" height="55" fill="#000"/>
<rect x="288" y="375" width="5" height="33" fill="#000"/>
<rect x="289" y="376" width="3" height="31" fill="#fff"/>
<rect x="298" y="369" width="1" height="41" fill="#000"/>
<rect x="296" y="375" width="5" height="24" fill="#000"/>
<rect x="306" y="381" width="1" height="95" fill="#000"/>
<rect x="304" y="398" width="5" height="30" fill="#000"/>
<rect x="314" y="404" width="1" height="72" fill="#000"/>
<rect x="312" y="428" width="5" height="48" fill="#000"/>
<rect x="322" y="471" width="1" height="23" fill="#000"/>
<rect x="320" y="473" width="5" height="19" fill="#000"/>
<rect x="330" y="437" width="1" height="74" fill="#000"/>
<rect x="328" y="464" width="5" height="29" fill="#000"/>
<rect x="329" y="465" width="3" height="27" fill="#fff"/>
<rect x="338" y="414" width="1" height="52" fill="#000"/>
<rect x="336" y="444" width="5" height="21" fill="#000"/>
<rect x="337" y="445" width="3" height="19" fill="#fff"/>
<rect x="346" y="416" width="1" height="31" fill="#000"/>
<rect x="344" y="429" width="5" height="15" fill="#000"/>
<rect x="345" y="430" width="3" height="13" fill="#fff"/>
<rect x="354" y="356" width="1" height="86" fill="#000"/>
<rect x="352" y="368" width="5" height="61" fill="#000"/>
<rect x="353" y="369" width="3" height="59" fill="#fff"/>
<rect x="362" y="350" width="1" height="60" fill="#000"/>
<rect x="360" y="368" width="5" height="26" fill="#000"/>
<rect x="370" y="375" width="1" height="22" fill="#000"/>
<rect x="368" y="376" width="5" height="18" fill="#000"/>
<rect x="369" y="377" width="3" height="16" fill="#fff"/>
<rect x="378" y="362" width="1" height="18" fill="#000"/>
<rect x="376" y="370" width="5" height="6" fill="#000"/>
<rect x="377" y="371" width="3" height="4" fill="#fff"/>
<rect x="386" y="338" width="1" height="36" fill="#000"/>
<rect x="384" y="339" width="5" height="32" fill="#000"/>
<rect x="385" y="340" width="3" height="30" fill="#fff"/>
<rect x="394" y="324" width="1" height="46" fill="#000"/>
<rect x="392" y="339" width="5" height="7" fill="#000"/>
<rect x="402" y="264" width="1" height="92" fill="#000"/>
<rect x="400" y="268" width="5" height="78" fill="#000"/>
<rect x="401" y="269" width="3" height="76" fill="#fff"/>
<rect x="410" y="249" width="1" height="28" fill="#000"/>
<rect x="408" y="269" width="5" height="7" fill="#000"/>
<rect x="418" y="264" width="1" height="14" fill="#000"/>
<rect x="416" y="273" width="5" height="2" fill="#000"/>
<rect x="426" y="252" width="1" height="32" fill="#000"/>
<rect x="424" y="269" width="5" height="5" fill="#000"/>
<rect x="425" y="270" width="3" height="3" fill="#fff"/>
<rect x="434" y="269" width="1" height="35" fill="#000"/>
<rect x="432" y="269" width="5" height="31" fill="#000"/>
<rect x="442" y="282" width="1" height="26" fill="#000"/>
<rect x="440" y="298" width="5" height="10" fill="#000"/>
<rect x="450" y="255" width="1" height="61" fill="#000"/>
<rect x="448" y="276" width="5" height="32" fill="#000"/>
<rect x="449" y="277" width="3" height="30" fill="#fff"/>
<rect x="458" y="254" width="1" height="30" fill="#000"/>
<rect x="456" y="268" width="5" height="8" fill="#000"/>
<rect x="457" y="269" width="3" height="6" fill="#fff"/>
<rect x="466" y="261" width="1" height="7" fill="#000"/>
<rect x="464" y="263" width="5" height="5" fill="#000"/>
<rect x="465" y="264" width="3" height="3" fill="#fff"/>
<rect x="474" y="244" width="1" height="14" fill="#000"/>
<rect x="472" y="246" width="5" height="1" fill="#000"/>
<rect x="482" y="223" width="1" height="27" fill="#000"/>
<rect x="480" y="235" width="5" height="11" fill="#000"/>
<rect x="481" y="236" width="3" height="9" fill="#fff"/>
<rect x="490" y="212" width="1" height="24" fill="#000"/>
<rect x="488" y="233" width="5" height="3" fill="#000"/><rect x="489" y="234" width="3" height="1" fill="#fff"/>
<rect x="498" y="226" width="1" height="32" fill="#000"/>
<rect x="496" y="233" width="5" height="19" fill="#000"/>
<rect x="506" y="206" width="1" height="66" fill="#000"/>
<rect x="504" y="235" width="5" height="17" fill="#000"/>
<rect x="505" y="236" width="3" height="15" fill="#fff"/>
<rect x="514" y="226" width="1" height="28" fill="#000"/>
<rect x="512" y="235" width="5" height="16" fill="#000"/>
<rect x="522" y="245" width="1" height="15" fill="#000"/>
<rect x="520" y="250" width="5" height="2" fill="#000"/>
<rect x="530" y="236" width="1" height="28" fill="#000"/>
<rect x="528" y="244" width="5" height="8" fill="#000"/>
<rect x="529" y="245" width="3" height="6" fill="#fff"/>
<rect x="538" y="224" width="1" height="58" fill="#000"/>
<rect x="536" y="244" width="5" height="30" fill="#000"/>
<rect x="546" y="270" width="1" height="30" fill="#000"/>
<rect x="544" y="273" width="5" height="5" fill="#000"/>
<rect x="554" y="267" width="1" height="107" fill="#000"/>
<rect x="552" y="277" width="5" height="87" fill="#000"/>
<rect x="562" y="333" width="1" height="63" fill="#000"/>
<rect x="560" y="365" width="5" height="19" fill="#000"/>
<rect x="570" y="358" width="1" height="28" fill="#000"/>
<rect x="568" y="359" width="5" height="27" fill="#000"/>
<rect x="569" y="360" width="3" height="25" fill="#fff"/>
<rect x="578" y="342" width="1" height="36" fill="#000"/>
<rect x="576" y="348" width="5" height="12" fill="#000"/>
<rect x="577" y="349" width="3" height="10" fill="#fff"/>
<rect x="586" y="330" width="1" height="28" fill="#000"/>
<rect x="584" y="336" width="5" height="12" fill="#000"/>
<rect x="585" y="337" width="3" height="10" fill="#fff"/>
<rect x="594" y="330" width="1" height="36" fill="#000"/>
<rect x="592" y="335" width="5" height="15" fill="#000"/>
<rect x="602" y="328" width="1" height="58" fill="#000"/>
<rect x="600" y="340" width="5" height="8" fill="#000"/>
<rect x="601" y="341" width="3" height="6" fill="#fff"/>
<rect x="610" y="319" width="1" height="51" fill="#000"/>
<rect x="608" y="339" width="5" height="23" fill="#000"/>
<rect x="618" y="334" width="1" height="30" fill="#000"/>
<rect x="616" y="342" width="5" height="20" fill="#000"/>
<rect x="617" y="343" width="3" height="18" fill="#fff"/>
<rect x="626" y="324" width="1" height="22" fill="#000"/>
<rect x="624" y="326" width="5" height="18" fill="#000"/>
<rect x="625" y="327" width="3" height="16" fill="#fff"/>
<rect x="634" y="295" width="1" height="33" fill="#000"/>
<rect x="632" y="304" width="5" height="22" fill="#000"/>
<rect x="633" y="305" width="3" height="20" fill="#fff"/>
<rect x="642" y="299" width="1" height="45" fill="#000"/>
<rect x="640" y="305" width="5" height="31" fill="#000"/>
<rect x="650" y="324" width="1" height="125" fill="#000"/>
<rect x="648" y="336" width="5" height="103" fill="#000"/>
<rect x="658" y="415" width="1" height="78" fill="#000"/>
<rect x="656" y="439" width="5" height="53" fill="#000"/>
<rect x="666" y="472" width="1" height="27" fill="#000"/>
<rect x="664" y="477" width="5" height="13" fill="#000"/>
<rect x="665" y="478" width="3" height="11" fill="#fff"/>
<rect x="674" y="468" width="1" height="78" fill="#000"/>
<rect x="672" y="477" width="5" height="62" fill="#000"/>
<rect x="682" y="516" width="1" height="52" fill="#000"/>
<rect x="680" y="539" width="5" height="2" fill="#000"/>
<rect x="690" y="445" width="1" height="114" fill="#000"/>
<rect x="688" y="462" width="5" height="78" fill="#000"/>
<rect x="689" y="463" width="3" height="76" fill="#fff"/>
<rect x="698" y="423" width="1" height="86" fill="#000"/>
<rect x="696" y="438" width="5" height="24" fill="#000"/>
<rect x="697" y="439" width="3" height="22" fill="#fff"/>
<rect x="706" y="342" width="1" height="101" fill="#000"/>
<rect x="704" y="384" width="5" height="53" fill="#000"/>
<rect x="705" y="385" width="3" height="51" fill="#fff"/>
<rect x="714" y="367" width="1" height="17" fill="#000"/>
<rect x="712" y="376" width="5" height="7" fill="#000"/>
<rect x="713" y="377" width="3" height="5" fill="#fff"/>
<rect x="722" y="357" width="1" height="9" fill="#000"/>
<rect x="720" y="358" width="5" height="6" fill="#000"/>
<rect x="730" y="362" width="1" height="60" fill="#000"/>
<rect x="728" y="364" width="5" height="46" fill="#000"/>
<rect x="738" y="371" width="1" height="61" fill="#000"/>
<rect x="736" y="410" width="5" height="2" fill="#000"/>
<rect x="746" y="396" width="1" height="32" fill="#000"/>
<rect x="744" y="410" width="5" height="3" fill="#000"/><rect x="745" y="411" width="3" height="1" fill="#fff"/>
<rect x="754" y="359" width="1" height="141" fill="#000"/>
<rect x="752" y="411" width="5" height="47" fill="#000"/>
<rect x="762" y="444" width="1" height="47" fill="#000"/>
<rect x="760" y="456" width="5" height="3" fill="#000"/><rect x="761" y="457" width="3" height="1" fill="#fff"/>
<rect x="770" y="441" width="1" height="19" fill="#000"/>
<rect x="768" y="452" width="5" height="4" fill="#000"/>
<rect x="769" y="453" width="3" height="2" fill="#fff"/>
<rect x="778" y="446" width="1" height="54" fill="#000"/>
<rect x="776" y="450" width="5" height="4" fill="#000"/>
<rect x="777" y="451" width="3" height="2" fill="#fff"/>
<rect x="786" y="441" width="1" height="31" fill="#000"/>
<rect x="784" y="449" width="5" height="15" fill="#000"/>
<rect x="794" y="409" width="1" height="57" fill="#000"/>
<rect x="792" y="418" width="5" height="46" fill="#000"/>
<rect x="793" y="419" width="3" height="44" fill="#fff"/>
<rect x="802" y="342" width="1" height="103" fill="#000"/>
<rect x="800" y="353" width="5" height="64" fill="#000"/>
<rect x="801" y="354" width="3" height="62" fill="#fff"/>
<rect x="810" y="340" width="1" height="44" fill="#000"/>
<rect x="808" y="353" width="5" height="31" fill="#000"/>
<rect x="818" y="368" width="1" height="22" fill="#000"/>
<rect x="816" y="382" width="5" height="6" fill="#000"/>
<rect x="826" y="369" width="1" height="55" fill="#000"/>
<rect x="824" y="386" width="5" height="17" fill="#000"/>
<rect x="834" y="396" width="1" height="54" fill="#000"/>
<rect x="832" y="403" width="5" height="41" fill="#000"/>
<rect x="842" y="434" width="1" height="44" fill="#000"/>
<rect x="840" y="444" width="5" height="10" fill="#000"/>
<rect x="850" y="407" width="1" height="85" fill="#000"/>
<rect x="848" y="434" width="5" height="19" fill="#000"/>
<rect x="849" y="435" width="3" height="17" fill="#fff"/>
<rect x="858" y="354" width="1" height="113" fill="#000"/>
<rect x="856" y="358" width="5" height="77" fill="#000"/>
<rect x="857" y="359" width="3" height="75" fill="#fff"/>
<rect x="866" y="327" width="1" height="37" fill="#000"/>
<rect x="864" y="339" width="5" height="20" fill="#000"/>
<rect x="865" y="340" width="3" height="18" fill="#fff"/>
<rect x="874" y="311" width="1" height="33" fill="#000"/>
<rect x="872" y="324" width="5" height="16" fill="#000"/>
<rect x="873" y="325" width="3" height="14" fill="#fff"/>
<rect x="882" y="307" width="1" height="29" fill="#000"/>
<rect x="880" y="320" width="5" height="4" fill="#000"/>
<rect x="881" y="321" width="3" height="2" fill="#fff"/>
<rect x="890" y="284" width="1" height="52" fill="#000"/>
<rect x="888" y="288" width="5" height="32" fill="#000"/>
<rect x="889" y="289" width="3" height="30" fill="#fff"/>
<rect x="898" y="224" width="1" height="74" fill="#000"/>
<rect x="896" y="231" width="5" height="57" fill="#000"/>
<rect x="897" y="232" width="3" height="55" fill="#fff"/>
<rect x="906" y="226" width="1" height="54" fill="#000"/>
<rect x="904" y="230" width="5" height="45" fill="#000"/>
<rect x="914" y="253" width="1" height="25" fill="#000"/>
<rect x="912" y="256" width="5" height="18" fill="#000"/>
<rect x="913" y="257" width="3" height="16" fill="#fff"/>
<rect x="922" y="249" width="1" height="30" fill="#000"/>
<rect x="920" y="256" width="5" height="10" fill="#000"/>
<rect x="930" y="251" width="1" height="23" fill="#000"/>
<rect x="928" y="265" width="5" height="1" fill="#000"/>
<rect x="938" y="261" width="1" height="25" fill="#000"/>
<rect x="936" y="267" width="5" height="2" fill="#000"/>
<rect x="946" y="257" width="1" height="43" fill="#000"/>
<rect x="944" y="269" width="5" height="7" fill="#000"/>
<rect x="954" y="256" width="1" height="38" fill="#000"/>
<rect x="952" y="276" width="5" height="2" fill="#000"/>
<rect x="962" y="277" width="1" height="9" fill="#000"/>
<rect x="960" y="277" width="5" height="5" fill="#000"/>
<rect x="970" y="291" width="1" height="41" fill="#000"/>
<rect x="968" y="296" width="5" height="24" fill="#000"/>
<rect x="978" y="275" width="1" height="49" fill="#000"/>
<rect x="976" y="286" width="5" height="33" fill="#000"/>
<rect x="977" y="287" width="3" height="31" fill="#fff"/>
<rect x="986" y="269" width="1" height="35" fill="#000"/>
<rect x="984" y="286" width="5" height="10" fill="#000"/>
<rect x="994" y="286" width="1" height="24" fill="#000"/>
<rect x="992" y="296" width="5" height="1" fill="#000"/>
<rect x="1002" y="230" width="1" height="72" fill="#000"/>
<rect x="1000" y="238" width="5" height="60" fill="#000"/>
<rect x="1001" y="239" width="3" height="58" fill="#fff"/>
<rect x="1010" y="236" width="1" height="104" fill="#000"/>
<rect x="1008" y="239" width="5" height="99" fill="#000"/>
<rect x="1018" y="336" width="1" height="16" fill="#000"/>
<rect x="1016" y="336" width="5" height="2" fill="#000"/>
<rect x="1026" y="336" width="1" height="52" fill="#000"/>
<rect x="1024" y="337" width="5" height="37" fill="#000"/>
<rect x="1034" y="356" width="1" height="40" fill="#000"/>
<rect x="1032" y="367" width="5" height="7" fill="#000"/>
<rect x="1033" y="368" width="3" height="5" fill="#fff"/>
<rect x="1042" y="327" width="1" height="47" fill="#000"/>
<rect x="1040" y="340" width="5" height="27" fill="#000"/>
<rect x="1041" y="341" width="3" height="25" fill="#fff"/>
<rect x="1050" y="311" width="1" height="53" fill="#000"/>
<rect x="1048" y="327" width="5" height="14" fill="#000"/>
<rect x="1049" y="328" width="3" height="12" fill="#fff"/>
<rect x="1058" y="313" width="1" height="67" fill="#000"/>
<rect x="1056" y="327" width="5" height="39" fill="#000"/>
<rect x="1066" y="366" width="1" height="20" fill="#000"/>
<rect x="1064" y="366" width="5" height="16" fill="#000"/>
<rect x="1074" y="362" width="1" height="22" fill="#000"/>
<rect x="1072" y="367" width="5" height="15" fill="#000"/>
<rect x="1073" y="368" width="3" height="13" fill="#fff"/>
<rect x="1082" y="359" width="1" height="31" fill="#000"/>
<rect x="1080" y="364" width="5" height="3" fill="#000"/>
<rect x="1081" y="365" width="3" height="1" fill="#fff"/>
<rect x="1090" y="345" width="1" height="25" fill="#000"/>
<rect x="1088" y="354" width="5" height="10" fill="#000"/>
<rect x="1089" y="355" width="3" height="8" fill="#fff"/>
<rect x="1098" y="345" width="1" height="83" fill="#000"/>
<rect x="1096" y="354" width="5" height="40" fill="#000"/>
<rect x="1106" y="349" width="1" height="49" fill="#000"/>
<rect x="1104" y="364" width="5" height="30" fill="#000"/>
<rect x="1105" y="365" width="3" height="28" fill="#fff"/>
<rect x="1114" y="349" width="1" height="19" fill="#000"/>
<rect x="1112" y="353" width="5" height="11" fill="#000"/>
<rect x="1113" y="354" width="3" height="9" fill="#fff"/>
<rect x="1122" y="334" width="1" height="20" fill="#000"/>
<rect x="1120" y="340" width="5" height="14" fill="#000"/>
<rect x="1121" y="341" width="3" height="12" fill="#fff"/>
<rect x="1130" y="318" width="1" height="26" fill="#000"/>
<rect x="1128" y="328" width="5" height="12" fill="#000"/>
<rect x="1129" y="329" width="3" height="10" fill="#fff"/>
<rect x="1138" y="301" width="1" height="27" fill="#000"/>
<rect x="1136" y="301" width="5" height="27" fill="#000"/>
<rect x="1137" y="302" width="3" height="25" fill="#fff"/>
<rect x="1146" y="250" width="1" height="54" fill="#000"/>
<rect x="1144" y="250" width="5" height="51" fill="#000"/>
<rect x="1145" y="251" width="3" height="49" fill="#fff"/>
<rect x="1154" y="239" width="1" height="21" fill="#000"/>
<rect x="1152" y="241" width="5" height="10" fill="#000"/>
<rect x="1153" y="242" width="3" height="8" fill="#fff"/>
<rect x="1162" y="217" width="1" height="27" fill="#000"/>
<rect x="1160" y="226" width="5" height="14" fill="#000"/>
<rect x="1161" y="227" width="3" height="12" fill="#fff"/>
<rect x="1170" y="211" width="1" height="29" fill="#000"/>
<rect x="1168" y="215" width="5" height="11" fill="#000"/>
<rect x="1169" y="216" width="3" height="9" fill="#fff"/>
<rect x="1178" y="206" width="1" height="13" fill="#000"/>
<rect x="1176" y="212" width="5" height="3" fill="#000"/>
<rect x="1177" y="213" width="3" height="1" fill="#fff"/>
<rect x="1186" y="199" width="1" height="19" fill="#000"/>
<rect x="1184" y="203" width="5" height="11" fill="#000"/>
<rect x="1185" y="204" width="3" height="9" fill="#fff"/>
<rect x="1194" y="157" width="1" height="55" fill="#000"/>
<rect x="1192" y="176" width="5" height="28" fill="#000"/>
<rect x="1193" y="177" width="3" height="26" fill="#fff"/>
<rect x="1202" y="144" width="1" height="34" fill="#000"/>
<rect x="1200" y="150" width="5" height="26" fill="#000"/>
<rect x="1201" y="151" width="3" height="24" fill="#fff"/>
<rect x="1210" y="144" width="1" height="8" fill="#000"/>
<rect x="1208" y="149" width="5" height="1" fill="#000"/>
<rect x="1218" y="149" width="1" height="11" fill="#000"/>
<rect x="1216" y="153" width="5" height="7" fill="#000"/>
<rect x="1226" y="138" width="1" height="26" fill="#000"/>
<rect x="1224" y="147" width="5" height="11" fill="#000"/>
<rect x="1225" y="148" width="3" height="9" fill="#fff"/>
<rect x="1234" y="146" width="1" height="36" fill="#000"/>
<rect x="1232" y="146" width="5" height="21" fill="#000"/>
<rect x="1242" y="159" width="1" height="23" fill="#000"/>
<rect x="1240" y="166" width="5" height="10" fill="#000"/>
<rect x="1250" y="144" width="1" height="68" fill="#000"/>
<rect x="1248" y="152" width="5" height="23" fill="#000"/>
<rect x="1249" y="153" width="3" height="21" fill="#fff"/>
<rect x="1258" y="148" width="1" height="24" fill="#000"/>
<rect x="1256" y="151" width="5" height="9" fill="#000"/>
<rect x="1266" y="159" width="1" height="13" fill="#000"/>
<rect x="1264" y="160" width="5" height="2" fill="#000"/>
<rect x="1274" y="150" width="1" height="24" fill="#000"/>
<rect x="1272" y="161" width="5" height="1" fill="#000"/>
<rect x="1282" y="141" width="1" height="24" fill="#000"/>
<rect x="1280" y="147" width="5" height="15" fill="#000"/>
<rect x="1281" y="148" width="3" height="13" fill="#fff"/>
<rect x="1290" y="110" width="1" height="40" fill="#000"/>
<rect x="1288" y="118" width="5" height="28" fill="#000"/>
<rect x="1289" y="119" width="3" height="26" fill="#fff"/>
<rect x="1298" y="114" width="1" height="38" fill="#000"/>
<rect x="1296" y="118" width="5" height="2" fill="#000"/>
<rect x="1306" y="112" width="1" height="26" fill="#000"/>
<rect x="1304" y="114" width="5" height="6" fill="#000"/>
<rect x="1305" y="115" width="3" height="4" fill="#fff"/>
<rect x="1314" y="104" width="1" height="12" fill="#000"/>
<rect x="1312" y="105" width="5" height="10" fill="#000"/>
<rect x="1313" y="106" width="3" height="8" fill="#fff"/>
<rect x="1322" y="103" width="1" height="17" fill="#000"/>
<rect x="1320" y="104" width="5" height="8" fill="#000"/>
<rect x="1330" y="104" width="1" height="22" fill="#000"/>
<rect x="1328" y="111" width="5" height="5" fill="#000"/>
<rect x="1338" y="108" width="1" height="14" fill="#000"/>
<rect x="1336" y="116" width="5" height="4" fill="#000"/>
<rect x="1346" y="73" width="1" height="51" fill="#000"/>
<rect x="1344" y="76" width="5" height="44" fill="#000"/>
<rect x="1345" y="77" width="3" height="42" fill="#fff"/>
<rect x="1354" y="63" width="1" height="22" fill="#000"/>
<rect x="1352" y="76" width="5" height="1" fill="#000"/>
<rect x="1362" y="74" width="1" height="18" fill="#000"/>
<rect x="1360" y="77" width="5" height="9" fill="#000"/>
<rect x="1370" y="79" width="1" height="15" fill="#000"/>
<rect x="1368" y="86" width="5" height="6" fill="#000"/>
<rect x="1378" y="92" width="1" height="13" fill="#000"/>
<rect x="1376" y="92" width="5" height="6" fill="#000"/>
<rect x="1386" y="96" width="1" height="10" fill="#000"/>
<rect x="1384" y="97" width="5" height="6" fill="#000"/>
<rect x="1394" y="102" width="1" height="15" fill="#000"/>
<rect x="1392" y="103" width="5" height="3" fill="#000"/>
<rect x="1402" y="75" width="1" height="37" fill="#000"/>
<rect x="1400" y="79" width="5" height="25" fill="#000"/>
<rect x="1401" y="80" width="3" height="23" fill="#fff"/>
<rect x="1410" y="64" width="1" height="21" fill="#000"/>
<rect x="1408" y="75" width="5" height="3" fill="#000"/>
<rect x="1409" y="76" width="3" height="1" fill="#fff"/>
<rect x="1418" y="75" width="1" height="1" fill="#000"/>
<rect x="1416" y="75" width="4" height="1" fill="#000"/>
<rect x="2" y="670" width="1" height="37" fill="#c0c0c0"/>
<rect x="10" y="670" width="1" height="36" fill="#c0c0c0"/>
<rect x="18" y="670" width="1" height="32" fill="#c0c0c0"/>
<rect x="26" y="670" width="1" height="28" fill="#c0c0c0"/>
<rect x="34" y="670" width="1" height="23" fill="#c0c0c0"/>
<rect x="42" y="670" width="1" height="21" fill="#c0c0c0"/>
<rect x="50" y="670" width="1" height="21" fill="#c0c0c0"/>
<rect x="58" y="670" width="1" height="22" fill="#c0c0c0"/>
<rect x="66" y="670" width="1" height="27" fill="#c0c0c0"/>
<rect x="74" y="670" width="1" height="32" fill="#c0c0c0"/>
<rect x="82" y="670" width="1" height="36" fill="#c0c0c0"/>
<rect x="90" y="670" width="1" height="39" fill="#c0c0c0"/>
<rect x="98" y="670" width="1" height="42" fill="#c0c0c0"/>
<rect x="106" y="670" width="1" height="41" fill="#c0c0c0"/>
<rect x="114" y="670" width="1" height="36" fill="#c0c0c0"/>
<rect x="122" y="670" width="1" height="32" fill="#c0c0c0"/>
<rect x="130" y="670" width="1" height="29" fill="#c0c0c0"/>
<rect x="138" y="670" width="1" height="26" fill="#c0c0c0"/>
<rect x="146" y="670" width="1" height="24" fill="#c0c0c0"/>
<rect x="154" y="670" width="1" height="25" fill="#c0c0c0"/>
<rect x="162" y="670" width="1" height="25" fill="#c0c0c0"/>
<rect x="170" y="670" width="1" height="25" fill="#c0c0c0"/>
<rect x="178" y="670" width="1" height="23" fill="#c0c0c0"/>
<rect x="186" y="670" width="1" height="21" fill="#c0c0c0"/>
<rect x="194" y="670" width="1" height="22" fill="#c0c0c0"/>
<rect x="202" y="670" width="1" height="24" fill="#c0c0c0"/>
<rect x="210" y="670" width="1" height="26" fill="#c0c0c0"/>
<rect x="218" y="670" width="1" height="29" fill="#c0c0c0"/>
<rect x="226" y="670" width="1" height="31" fill="#c0c0c0"/>
<rect x="234" y="670" width="1" height="38" fill="#c0c0c0"/>
<rect x="242" y="670" width="1" height="48" fill="#c0c0c0"/>
<rect x="250" y="670" width="1" height="59" fill="#c0c0c0"/>
<rect x="258" y="670" width="1" height="67" fill="#c0c0c0"/>
<rect x="266" y="670" width="1" height="72" fill="#c0c0c0"/>
<rect x="274" y="670" width="1" height="74" fill="#c0c0c0"/>
<rect x="282" y="670" width="1" height="70" fill="#c0c0c0"/>
<rect x="290" y="670" width="1" height="62" fill="#c0c0c0"/>
<rect x="298" y="670" width="1" height="58" fill="#c0c0c0"/>
<rect x="306" y="670" width="1" height="58" fill="#c0c0c0"/>
<rect x="314" y="670" width="1" height="62" fill="#c0c0c0"/>
<rect x="322" y="670" width="1" height="65" fill="#c0c0c0"/>
<rect x="330" y="670" width="1" height="65" fill="#c0c0c0"/>
<rect x="338" y="670" width="1" height="63" fill="#c0c0c0"/>
<rect x="346" y="670" width="1" height="59" fill="#c0c0c0"/>
<rect x="354" y="670" width="1" height="47" fill="#c0c0c0"/>
<rect x="362" y="670" width="1" height="40" fill="#c0c0c0"/>
<rect x="370" y="670" width="1" height="33" fill="#c0c0c0"/>
<rect x="378" y="670" width="1" height="26" fill="#c0c0c0"/>
<rect x="386" y="670" width="1" height="17" fill="#c0c0c0"/>
<rect x="394" y="670" width="1" height="10" fill="#c0c0c0"/>
<rect x="402" y="667" width="1" height="4" fill="#c0c0c0"/>
<rect x="410" y="657" width="1" height="14" fill="#c0c0c0"/>
<rect x="418" y="649" width="1" height="22" fill="#c0c0c0"/>
<rect x="426" y="643" width="1" height="28" fill="#c0c0c0"/>
<rect x="434" y="641" width="1" height="30" fill="#c0c0c0"/>
<rect x="442" y="641" width="1" height="30" fill="#c0c0c0"/>
<rect x="450" y="638" width="1" height="33" fill="#c0c0c0"/>
<rect x="458" y="636" width="1" height="35" fill="#c0c0c0"/>
<rect x="466" y="633" width="1" height="38" fill="#c0c0c0"/>
<rect x="474" y="630" width="1" height="41" fill="#c0c0c0"/>
<rect x="482" y="627" width="1" height="44" fill="#c0c0c0"/>
<rect x="490" y="624" width="1" height="47" fill="#c0c0c0"/>
<rect x="498" y="625" width="1" height="46" fill="#c0c0c0"/>
<rect x="506" y="624" width="1" height="47" fill="#c0c0c0"/>
<rect x="514" y="626" width="1" height="45" fill="#c0c0c0"/>
<rect x="522" y="628" width="1" height="43" fill="#c0c0c0"/>
<rect x="530" y="629" width="1" height="42" fill="#c0c0c0"/>
<rect x="538" y="634" width="1" height="37" fill="#c0c0c0"/>
<rect x="546" y="638" width="1" height="33" fill="#c0c0c0"/>
<rect x="554" y="652" width="1" height="19" fill="#c0c0c0"/>
<rect x="562" y="665" width="1" height="6" fill="#c0c0c0"/>
<rect x="570" y="670" width="1" height="1" fill="#c0c0c0"/>
<rect x="578" y="670" width="1" height="7" fill="#c0c0c0"/>
<rect x="586" y="670" width="1" height="9" fill="#c0c0c0"/>
<rect x="594" y="670" width="1" height="11" fill="#c0c0c0"/>
<rect x="602" y="670" width="1" height="13" fill="#c0c0c0"/>
<rect x="610" y="670" width="1" height="17" fill="#c0c0c0"/>
<rect x="618" y="670" width="1" height="17" fill="#c0c0c0"/>
<rect x="626" y="670" width="1" height="15" fill="#c0c0c0"/>
<rect x="634" y="670" width="1" height="11" fill="#c0c0c0"/>
<rect x="642" y="670" width="1" height="11" fill="#c0c0c0"/>
<rect x="650" y="670" width="1" height="23" fill="#c0c0c0"/>
<rect x="658" y="670" width="1" height="37" fill="#c0c0c0"/>
<rect x="666" y="670" width="1" height="45" fill="#c0c0c0"/>
<rect x="674" y="670" width="1" height="59" fill="#c0c0c0"/>
<rect x="682" y="670" width="1" height="69" fill="#c0c0c0"/>
<rect x="690" y="670" width="1" height="69" fill="#c0c0c0"/>
<rect x="698" y="670" width="1" height="63" fill="#c0c0c0"/>
<rect x="706" y="670" width="1" height="53" fill="#c0c0c0"/>
<rect x="714" y="670" width="1" height="43" fill="#c0c0c0"/>
<rect x="722" y="670" width="1" height="35" fill="#c0c0c0"/>
<rect x="730" y="670" width="1" height="33" fill="#c0c0c0"/>
<rect x="738" y="670" width="1" height="29" fill="#c0c0c0"/>
<rect x="746" y="670" width="1" height="27" fill="#c0c0c0"/>
<rect x="754" y="670" width="1" height="31" fill="#c0c0c0"/>
<rect x="762" y="670" width="1" height="33" fill="#c0c0c0"/>
<rect x="770" y="670" width="1" height="35" fill="#c0c0c0"/>
<rect x="778" y="670" width="1" height="35" fill="#c0c0c0"/>
<rect x="786" y="670" width="1" height="33" fill="#c0c0c0"/>
<rect x="794" y="670" width="1" height="29" fill="#c0c0c0"/>
<rect x="802" y="670" width="1" height="19" fill="#c0c0c0"/>
<rect x="810" y="670" width="1" height="13" fill="#c0c0c0"/>
<rect x="818" y="670" width="1" height="9" fill="#c0c0c0"/>
<rect x="826" y="670" width="1" height="7" fill="#c0c0c0"/>
<rect x="834" y="670" width="1" height="11" fill="#c0c0c0"/>
<rect x="842" y="670" width="1" height="15" fill="#c0c0c0"/>
<rect x="850" y="670" width="1" height="15" fill="#c0c0c0"/>
<rect x="858" y="670" width="1" height="7" fill="#c0c0c0"/>
<rect x="866" y="669" width="1" height="2" fill="#c0c0c0"/>
<rect x="874" y="660" width="1" height="11" fill="#c0c0c0"/>
<rect x="882" y="654" width="1" height="17" fill="#c0c0c0"/>
<rect x="890" y="645" width="1" height="26" fill="#c0c0c0"/>
<rect x="898" y="632" width="1" height="39" fill="#c0c0c0"/>
<rect x="906" y="627" width="1" height="44" fill="#c0c0c0"/>
<rect x="914" y="622" width="1" height="49" fill="#c0c0c0"/>
<rect x="922" y="619" width="1" height="52" fill="#c0c0c0"/>
<rect x="930" y="618" width="1" height="53" fill="#c0c0c0"/>
<rect x="938" y="618" width="1" height="53" fill="#c0c0c0"/>
<rect x="946" y="619" width="1" height="52" fill="#c0c0c0"/>
<rect x="954" y="621" width="1" height="50" fill="#c0c0c0"/>
<rect x="962" y="624" width="1" height="47" fill="#c0c0c0"/>
<rect x="970" y="630" width="1" height="41" fill="#c0c0c0"/>
<rect x="978" y="632" width="1" height="39" fill="#c0c0c0"/>
<rect x="986" y="635" width="1" height="36" fill="#c0c0c0"/>
<rect x="994" y="638" width="1" height="33" fill="#c0c0c0"/>
<rect x="1002" y="634" width="1" height="37" fill="#c0c0c0"/>
<rect x="1010" y="642" width="1" height="29" fill="#c0c0c0"/>
<rect x="1018" y="649" width="1" height="22" fill="#c0c0c0"/>
<rect x="1026" y="659" width="1" height="12" fill="#c0c0c0"/>
<rect x="1034" y="666" width="1" height="5" fill="#c0c0c0"/>
<rect x="1042" y="668" width="1" height="3" fill="#c0c0c0"/>
<rect x="1050" y="670" width="1" height="1" fill="#c0c0c0"/>
<rect x="1058" y="670" width="1" height="3" fill="#c0c0c0"/>
<rect x="1066" y="670" width="1" height="9" fill="#c0c0c0"/>
<rect x="1074" y="670" width="1" height="11" fill="#c0c0c0"/>
<rect x="1082" y="670" width="1" height="13" fill="#c0c0c0"/>
<rect x="1090" y="670" width="1" height="13" fill="#c0c0c0"/>
<rect x="1098" y="670" width="1" height="17" fill="#c0c0c0"/>
<rect x="1106" y="670" width="1" height="17" fill="#c0c0c0"/>
<rect x="1114" y="670" width="1" height="15" fill="#c0c0c0"/>
<rect x="1122" y="670" width="1" height="13" fill="#c0c0c0"/>
<rect x="1130" y="670" width="1" height="9" fill="#c0c0c0"/>
<rect x="1138" y="670" width="1" height="1" fill="#c0c0c0"/>
<rect x="1146" y="663" width="1" height="8" fill="#c0c0c0"/>
<rect x="1154" y="654" width="1" height="17" fill="#c0c0c0"/>
<rect x="1162" y="646" width="1" height="25" fill="#c0c0c0"/>
<rect x="1170" y="638" width="1" height="33" fill="#c0c0c0"/>
<rect x="1178" y="632" width="1" height="39" fill="#c0c0c0"/>
<rect x="1186" y="627" width="1" height="44" fill="#c0c0c0"/>
<rect x="1194" y="621" width="1" height="50" fill="#c0c0c0"/>
<rect x="1202" y="613" width="1" height="58" fill="#c0c0c0"/>
<rect x="1210" y="608" width="1" height="63" fill="#c0c0c0"/>
<rect x="1218" y="606" width="1" height="65" fill="#c0c0c0"/>
<rect x="1226" y="603" width="1" height="68" fill="#c0c0c0"/>
<rect x="1234" y="605" width="1" height="66" fill="#c0c0c0"/>
<rect x="1242" y="607" width="1" height="64" fill="#c0c0c0"/>
<rect x="1250" y="607" width="1" height="64" fill="#c0c0c0"/>
<rect x="1258" y="609" width="1" height="62" fill="#c0c0c0"/>
<rect x="1266" y="611" width="1" height="60" fill="#c0c0c0"/>
<rect x="1274" y="614" width="1" height="57" fill="#c0c0c0"/>
<rect x="1282" y="614" width="1" height="57" fill="#c0c0c0"/>
<rect x="1290" y="612" width="1" height="59" fill="#c0c0c0"/>
<rect x="1298" y="612" width="1" height="59" fill="#c0c0c0"/>
<rect x="1306" y="612" width="1" height="59" fill="#c0c0c0"/>
<rect x="1314" y="612" width="1" height="59" fill="#c0c0c0"/>
<rect x="1322" y="613" width="1" height="58" fill="#c0c0c0"/>
<rect x="1330" y="614" width="1" height="57" fill="#c0c0c0"/>
<rect x="1338" y="617" width="1" height="54" fill="#c0c0c0"/>
<rect x="1346" y="614" width="1" height="57" fill="#c0c0c0"/>
<rect x="1354" y="613" width="1" height="58" fill="#c0c0c0"/>
<rect x="1362" y="615" width="1" height="56" fill="#c0c0c0"/>
<rect x="1370" y="616" width="1" height="55" fill="#c0c0c0"/>
<rect x="1378" y="620" width="1" height="51" fill="#c0c0c0"/>
<rect x="1386" y="623" width="1" height="48" fill="#c0c0c0"/>
<rect x="1394" y="626" width="1" height="45" fill="#c0c0c0"/>
<rect x="1402" y="626" width="1" height="45" fill="#c0c0c0"/>
<rect x="1410" y="627" width="1" height="44" fill="#c0c0c0"/>
<rect x="1418" y="627" width="1" height="44" fill="#c0c0c0"/>
<polyline points="0.0,708.0 20.0,708.2 35.0,705.5 47.5,701.2 65.0,697.5 82.5,696.2 105.0,699.5 115.0,703.0 132.5,704.5 160.0,701.2 175.0,697.5 192.5,693.8 217.5,693.2 235.0,695.0 250.0,701.2 265.0,711.2 277.5,720.0 290.0,727.0 302.5,732.0 317.5,734.5 332.5,734.5 347.5,731.2 367.5,725.0 385.0,716.8 400.0,703.8 412.5,691.2 422.5,681.2 435.0,667.5 450.0,655.0 462.5,646.2 475.0,640.5 492.5,633.8 507.5,630.0 525.0,627.0 537.5,626.5 547.5,627.5 560.0,633.8 575.0,643.8 590.0,655.0 605.0,665.0 620.0,675.5 632.5,680.0 645.0,681.8 657.5,686.2 672.5,694.5 685.0,703.8 697.5,712.5 710.0,719.5 720.0,722.5 730.0,722.0 742.5,718.8 757.5,710.0 772.5,704.5 787.5,702.5 802.5,699.5 815.0,697.0 830.0,692.0 847.5,688.2 865.0,680.0 880.0,673.8 890.0,670.8 902.5,661.2 917.5,647.5 932.5,635.0 950.0,625.5 965.0,621.2 975.0,621.5 995.0,624.5 1010.0,629.5 1025.0,636.2 1040.0,645.0 1055.0,653.8 1070.0,661.2 1080.0,668.8 1095.0,675.5 1110.0,679.5 1122.5,682.5 1137.5,682.5 1150.0,678.8 1162.5,672.5 1175.0,663.8 1187.5,653.8 1202.5,641.2 1217.5,626.2 1232.5,618.0 1250.0,610.5 1262.5,608.0 1274.5,607.0 1285.0,607.0 1297.5,608.8 1305.0,610.8 1322.5,611.5 1328.8,612.5 1350.0,612.5 1372.5,613.0 1385.0,615.5 1400.0,617.5 1417.5,619.2" fill="none" stroke="#ff0000" stroke-width="1" stroke-dasharray="3,3"/>
<line x1="1" y1="788.5" x2="1653" y2="788.5" stroke="#c0c0c0" stroke-width="1" stroke-dasharray="3,3"/>
<line x1="1" y1="839.5" x2="1653" y2="839.5" stroke="#c0c0c0" stroke-width="1" stroke-dasharray="3,3"/>
<line x1="1" y1="900.5" x2="1653" y2="900.5" stroke="#c0c0c0" stroke-width="1" stroke-dasharray="3,3"/>
<path d="M0.5 852v1M1.5 851v1M2.5 851v1M3.5 851v1M4.5 850v1M5.5 850v1M6.5 849v1M7.5 849v1M8.5 849v1M9.5 848v1M10.5 848v1M11.5 847v1M12.5 847v1M13.5 847v1M14.5 846v1M15.5 846v1M16.5 846v1M17.5 845v1M18.5 845v1M19.5 844v1M20.5 844v1M21.5 843v1M22.5 842v1M23.5 842v1M24.5 841v1M25.5 840v1M26.5 840v1M27.5 840v1M28.5 839v1M29.5 839v1M30.5 839v1M31.5 839v1M32.5 838v1M33.5 838v1M34.5 838v1M35.5 838v1M36.5 839v1M37.5 840v1M38.5 840v1M39.5 841v1M40.5 842v1M41.5 842v1M42.5 843v1M43.5 843v1M44.5 844v1M45.5 845v1M46.5 846v1M47.5 846v1M48.5 847v1M49.5 848v1M50.5 849v1M51.5 850v1M52.5 851v1M53.5 852v2M54.5 854v1M55.5 855v1M56.5 856v1M57.5 857v2M58.5 859v1M59.5 859v1M60.5 860v1M61.5 861v1M62.5 862v1M63.5 863v1M64.5 864v1M65.5 865v1M66.5 866v1M67.5 866v1M68.5 867v1M69.5 867v1M70.5 868v1M71.5 868v1M72.5 869v1M73.5 869v1M74.5 870v1M75.5 870v1M76.5 869v1M77.5 869v1M78.5 869v1M79.5 869v1M80.5 869v1M81.5 869v1M82.5 869v1M83.5 869v1M84.5 869v1M85.5 869v1M86.5 870v1M87.5 870v1M88.5 870v1M89.5 870v1M90.5 871v1M91.5 871v1M92.5 871v1M93.5 872v1M94.5 872v1M95.5 872v1M96.5 872v1M97.5 873v1M98.5 872v2M99.5 870v2M100.5 868v2M101.5 866v2M102.5 864v2M103.5 863v1M104.5 861v2M105.5 859v2M106.5 857v2M107.5 856v1M108.5 854v2M109.5 852v2M110.5 851v1M111.5 849v2M112.5 847v2M113.5 846v1M114.5 845v1M115.5 845v1M116.5 844v1M117.5 844v1M118.5 844v1M119.5 844v1M120.5 843v1M121.5 843v1M122.5 843v1M123.5 844v1M124.5 844v1M125.5 845v1M126.5 845v1M127.5 846v1M128.5 847v1M129.5 847v1M130.5 848v1M131.5 847v1M132.5 847v1M133.5 847v1M134.5 846v1M135.5 846v1M136.5 846v1M137.5 845v1M138.5 845v1M139.5 845v1M140.5 846v1M141.5 846v1M142.5 846v1M143.5 847v1M144.5 847v1M145.5 847v1M146.5 848v1M147.5 849v2M148.5 851v1M149.5 852v2M150.5 854v1M151.5 855v2M152.5 857v1M153.5 858v2M154.5 859v2M155.5 858v1M156.5 856v2M157.5 855v1M158.5 853v2M159.5 852v1M160.5 850v2M161.5 849v1M162.5 848v1M163.5 848v1M164.5 849v1M165.5 849v1M166.5 849v1M167.5 850v1M168.5 850v1M169.5 850v1M170.5 851v1M171.5 850v1M172.5 850v1M173.5 849v1M174.5 849v1M175.5 848v1M176.5 848v1M177.5 847v1M178.5 847v1M179.5 846v1M180.5 846v1M181.5 845v1M182.5 845v1M183.5 844v1M184.5 844v1M185.5 843v1M186.5 843v1M187.5 844v1M188.5 845v1M189.5 846v1M190.5 847v1M191.5 848v1M192.5 849v1M193.5 850v2M194.5 852v1M195.5 853v1M196.5 854v1M197.5 855v1M198.5 856v1M199.5 857v1M200.5 858v2M201.5 860v1M202.5 861v1M203.5 861v1M204.5 861v1M205.5 860v1M206.5 860v1M207.5 860v1M208.5 860v1M209.5 860v1M210.5 860v1M211.5 860v1M212.5 860v1M213.5 860v1M214.5 861v1M215.5 861v1M216.5 861v1M217.5 861v1M218.5 862v1M219.5 862v1M220.5 862v1M221.5 863v1M222.5 863v1M223.5 864v1M224.5 864v1M225.5 864v1M226.5 865v2M227.5 867v1M228.5 868v2M229.5 870v2M230.5 872v2M231.5 874v1M232.5 875v2M233.5 877v2M234.5 879v1M235.5 880v1M236.5 880v1M237.5 881v1M238.5 882v1M239.5 883v1M240.5 883v1M241.5 884v1M242.5 885v1M243.5 885v1M244.5 886v1M245.5 887v1M246.5 887v1M247.5 888v1M248.5 889v1M249.5 889v1M250.5 890v1M251.5 890v1M252.5 890v1M253.5 890v1M254.5 890v1M255.5 890v1M256.5 890v1M257.5 890v1M258.5 890v1M259.5 890v1M260.5 890v1M261.5 890v1M262.5 890v1M263.5 890v1M264.5 890v1M265.5 890v1M266.5 889v2M267.5 887v2M268.5 886v1M269.5 884v2M270.5 882v2M271.5 881v1M272.5 879v2M273.5 878v1M274.5 876v2M275.5 874v2M276.5 872v2M277.5 870v2M278.5 868v2M279.5 866v2M280.5 864v2M281.5 862v2M282.5 861v1M283.5 859v2M284.5 858v1M285.5 856v2M286.5 855v1M287.5 853v2M288.5 852v1M289.5 850v2M290.5 849v1M291.5 850v1M292.5 850v1M293.5 851v1M294.5 852v1M295.5 853v1M296.5 853v1M297.5 854v1M298.5 855v1M299.5 856v1M300.5 856v1M301.5 857v1M302.5 858v1M303.5 859v1M304.5 860v1M305.5 861v1M306.5 862v1M307.5 863v1M308.5 864v1M309.5 865v2M310.5 867v1M311.5 868v1M312.5 869v1M313.5 870v2M314.5 872v1M315.5 872v1M316.5 872v1M317.5 872v1M318.5 873v1M319.5 873v1M320.5 873v1M321.5 874v1M322.5 874v1M323.5 873v1M324.5 871v2M325.5 870v1M326.5 869v1M327.5 868v1M328.5 866v2M329.5 865v1M330.5 864v1M331.5 863v1M332.5 862v1M333.5 861v1M334.5 860v1M335.5 859v1M336.5 858v1M337.5 857v1M338.5 857v1M339.5 856v1M340.5 855v1M341.5 855v1M342.5 854v1M343.5 854v1M344.5 853v1M345.5 853v1M346.5 851v2M347.5 849v2M348.5 847v2M349.5 844v3M350.5 842v2M351.5 840v2M352.5 838v2M353.5 836v2M354.5 835v1M355.5 835v1M356.5 836v1M357.5 837v1M358.5 838v1M359.5 838v1M360.5 839v1M361.5 840v1M362.5 840v1M363.5 840v1M364.5 839v1M365.5 839v1M366.5 838v1M367.5 838v1M368.5 837v1M369.5 837v1M370.5 837v1M371.5 836v1M372.5 836v1M373.5 836v1M374.5 836v1M375.5 835v1M376.5 835v1M377.5 835v1M378.5 835v1M379.5 834v1M380.5 833v1M381.5 832v1M382.5 831v1M383.5 830v1M384.5 830v1M385.5 829v1M386.5 828v1M387.5 828v1M388.5 828v1M389.5 829v1M390.5 829v1M391.5 829v1M392.5 829v1M393.5 830v1M394.5 829v2M395.5 827v2M396.5 825v2M397.5 823v2M398.5 821v2M399.5 819v2M400.5 817v2M401.5 815v2M402.5 814v1M403.5 814v1M404.5 814v1M405.5 814v1M406.5 815v1M407.5 815v1M408.5 815v1M409.5 815v1M410.5 816v1M411.5 816v1M412.5 816v1M413.5 816v1M414.5 816v1M415.5 816v1M416.5 816v1M417.5 816v1M418.5 816v1M419.5 816v1M420.5 816v1M421.5 815v1M422.5 815v1M423.5 815v1M424.5 815v1M425.5 815v1M426.5 815v1M427.5 816v1M428.5 817v2M429.5 819v1M430.5 820v1M431.5 821v1M432.5 822v2M433.5 824v1M434.5 825v1M435.5 825v1M436.5 826v1M437.5 826v1M438.5 826v1M439.5 827v1M440.5 827v1M441.5 828v1M442.5 828v1M443.5 827v1M444.5 826v1M445.5 825v1M446.5 824v1M447.5 823v1M448.5 822v1M449.5 821v1M450.5 820v1M451.5 820v1M452.5 820v1M453.5 820v1M454.5 820v1M455.5 819v1M456.5 819v1M457.5 819v1M458.5 819v1M459.5 819v1M460.5 819v1M461.5 819v1M462.5 818v1M463.5 818v1M464.5 818v1M465.5 818v1M466.5 818v1M467.5 817v1M468.5 817v1M469.5 816v1M470.5 816v1M471.5 815v1M472.5 815v1M473.5 814v1M474.5 814v1M475.5 813v1M476.5 813v1M477.5 813v1M478.5 812v1M479.5 812v1M480.5 812v1M481.5 811v1M482.5 811v1M483.5 811v1M484.5 811v1M485.5 811v1M486.5 811v1M487.5 811v1M488.5 811v1M489.5 811v1M490.5 811v1M491.5 812v1M492.5 813v1M493.5 814v1M494.5 815v1M495.5 816v1M496.5 817v1M497.5 818v1M498.5 819v1M499.5 818v1M500.5 818v1M501.5 817v1M502.5 817v1M503.5 816v1M504.5 816v1M505.5 815v1M506.5 815v1M507.5 816v1M508.5 816v1M509.5 817v1M510.5 818v1M511.5 819v1M512.5 819v1M513.5 820v1M514.5 821v1M515.5 821v1M516.5 821v1M517.5 821v1M518.5 821v1M519.5 822v1M520.5 822v1M521.5 822v1M522.5 822v1M523.5 822v1M524.5 821v1M525.5 821v1M526.5 821v1M527.5 821v1M528.5 820v1M529.5 820v1M530.5 820v1M531.5 821v2M532.5 823v2M533.5 825v1M534.5 826v2M535.5 828v2M536.5 830v1M537.5 831v2M538.5 833v1M539.5 833v1M540.5 833v1M541.5 833v1M542.5 834v1M543.5 834v1M544.5 834v1M545.5 834v1M546.5 835v3M547.5 838v3M548.5 841v3M549.5 844v4M550.5 848v3M551.5 851v3M552.5 854v3M553.5 857v4M554.5 861v1M555.5 861v1M556.5 862v1M557.5 863v1M558.5 863v1M559.5 864v1M560.5 865v1M561.5 865v1M562.5 865v2M563.5 864v1M564.5 863v1M565.5 862v1M566.5 860v2M567.5 859v1M568.5 858v1M569.5 857v1M570.5 856v1M571.5 855v1M572.5 855v1M573.5 854v1M574.5 854v1M575.5 853v1M576.5 853v1M577.5 852v1M578.5 852v1M579.5 851v1M580.5 851v1M581.5 850v1M582.5 850v1M583.5 849v1M584.5 849v1M585.5 848v1M586.5 848v1M587.5 848v1M588.5 849v1M589.5 849v1M590.5 850v1M591.5 850v1M592.5 851v1M593.5 851v1M594.5 852v1M595.5 851v1M596.5 851v1M597.5 850v1M598.5 850v1M599.5 849v1M600.5 849v1M601.5 848v1M602.5 848v1M603.5 849v1M604.5 850v1M605.5 850v1M606.5 851v1M607.5 852v1M608.5 853v1M609.5 854v1M610.5 855v1M611.5 854v1M612.5 853v1M613.5 852v1M614.5 851v1M615.5 850v1M616.5 849v1M617.5 848v1M618.5 847v1M619.5 846v1M620.5 846v1M621.5 845v1M622.5 844v1M623.5 844v1M624.5 843v1M625.5 843v1M626.5 842v1M627.5 841v1M628.5 840v1M629.5 839v1M630.5 838v1M631.5 837v1M632.5 836v1M633.5 835v1M634.5 834v1M635.5 835v1M636.5 836v2M637.5 838v1M638.5 839v1M639.5 840v2M640.5 842v1M641.5 843v2M642.5 845v2M643.5 847v3M644.5 850v3M645.5 853v3M646.5 856v3M647.5 859v3M648.5 862v3M649.5 865v3M650.5 868v1M651.5 869v1M652.5 870v1M653.5 870v1M654.5 871v1M655.5 872v1M656.5 873v1M657.5 874v1M658.5 875v1M659.5 874v1M660.5 874v1M661.5 873v1M662.5 873v1M663.5 872v1M664.5 872v1M665.5 871v1M666.5 871v1M667.5 872v1M668.5 873v1M669.5 874v1M670.5 875v1M671.5 876v1M672.5 877v1M673.5 878v1M674.5 879v1M675.5 879v1M676.5 879v1M677.5 879v1M678.5 879v1M679.5 879v1M680.5 879v1M681.5 879v1M682.5 877v3M683.5 874v3M684.5 872v2M685.5 869v3M686.5 866v3M687.5 863v3M688.5 860v3M689.5 858v2M690.5 857v1M691.5 856v1M692.5 855v1M693.5 854v1M694.5 853v1M695.5 852v1M696.5 851v1M697.5 850v1M698.5 849v2M699.5 848v1M700.5 846v2M701.5 845v1M702.5 844v1M703.5 842v2M704.5 841v1M705.5 840v1M706.5 839v1M707.5 838v1M708.5 838v1M709.5 838v1M710.5 838v1M711.5 837v1M712.5 837v1M713.5 837v1M714.5 837v1M715.5 836v1M716.5 836v1M717.5 836v1M718.5 836v1M719.5 835v1M720.5 835v1M721.5 835v1M722.5 835v1M723.5 836v1M724.5 837v2M725.5 839v1M726.5 840v1M727.5 841v1M728.5 842v2M729.5 844v1M730.5 845v1M731.5 845v1M732.5 845v1M733.5 845v1M734.5 845v1M735.5 845v1M736.5 845v1M737.5 845v1M738.5 845v1M739.5 845v1M740.5 845v1M741.5 845v1M742.5 845v1M743.5 845v1M744.5 845v1M745.5 845v1M746.5 845v1M747.5 846v1M748.5 847v2M749.5 849v1M750.5 850v1M751.5 851v1M752.5 852v2M753.5 854v1M754.5 855v1M755.5 855v1M756.5 855v1M757.5 854v1M758.5 854v1M759.5 854v1M760.5 854v1M761.5 854v1M762.5 854v1M763.5 854v1M764.5 854v1M765.5 853v1M766.5 853v1M767.5 853v1M768.5 853v1M769.5 853v1M770.5 853v1M771.5 853v1M772.5 853v1M773.5 852v1M774.5 852v1M775.5 852v1M776.5 852v1M777.5 852v1M778.5 852v1M779.5 852v1M780.5 853v1M781.5 853v1M782.5 853v1M783.5 854v1M784.5 854v1M785.5 854v1M786.5 854v2M787.5 852v2M788.5 851v1M789.5 849v2M790.5 847v2M791.5 845v2M792.5 844v1M793.5 842v2M794.5 840v2M795.5 838v2M796.5 836v2M797.5 834v2M798.5 832v2M799.5 831v1M800.5 829v2M801.5 827v2M802.5 826v1M803.5 827v1M804.5 828v1M805.5 829v1M806.5 830v1M807.5 831v1M808.5 832v1M809.5 833v1M810.5 834v1M811.5 834v1M812.5 834v1M813.5 834v1M814.5 834v1M815.5 834v1M816.5 834v1M817.5 835v1M818.5 835v1M819.5 835v1M820.5 836v1M821.5 836v1M822.5 837v1M823.5 837v1M824.5 838v1M825.5 838v1M826.5 839v1M827.5 840v1M828.5 841v2M829.5 843v1M830.5 844v1M831.5 845v1M832.5 846v2M833.5 848v1M834.5 849v1M835.5 849v1M836.5 849v1M837.5 850v1M838.5 850v1M839.5 850v1M840.5 850v1M841.5 851v1M842.5 851v1M843.5 850v1M844.5 850v1M845.5 849v1M846.5 849v1M847.5 848v1M848.5 848v1M849.5 847v1M850.5 845v3M851.5 843v2M852.5 840v3M853.5 838v2M854.5 835v3M855.5 833v2M856.5 831v2M857.5 828v3M858.5 827v1M859.5 827v1M860.5 826v1M861.5 826v1M862.5 826v1M863.5 825v1M864.5 825v1M865.5 824v1M866.5 824v1M867.5 824v1M868.5 823v1M869.5 823v1M870.5 823v1M871.5 822v1M872.5 822v1M873.5 821v1M874.5 821v1M875.5 821v1M876.5 821v1M877.5 821v1M878.5 821v1M879.5 821v1M880.5 821v1M881.5 821v1M882.5 821v1M883.5 820v1M884.5 819v1M885.5 819v1M886.5 818v1M887.5 817v1M888.5 816v1M889.5 816v1M890.5 815v1M891.5 813v2M892.5 812v1M893.5 811v1M894.5 810v1M895.5 808v2M896.5 807v1M897.5 806v1M898.5 805v2M899.5 807v1M900.5 808v2M901.5 810v2M902.5 812v2M903.5 814v1M904.5 815v2M905.5 817v2M906.5 819v1M907.5 818v1M908.5 818v1M909.5 817v1M910.5 817v1M911.5 816v1M912.5 816v1M913.5 815v1M914.5 815v1M915.5 815v1M916.5 816v1M917.5 816v1M918.5 816v1M919.5 817v1M920.5 817v1M921.5 817v1M922.5 818v1M923.5 818v1M924.5 818v1M925.5 818v1M926.5 818v1M927.5 818v1M928.5 819v1M929.5 819v1M930.5 819v1M931.5 819v1M932.5 819v1M933.5 819v1M934.5 819v1M935.5 819v1M936.5 819v1M937.5 819v1M938.5 819v1M939.5 819v1M940.5 820v1M941.5 820v1M942.5 820v1M943.5 821v1M944.5 821v1M945.5 821v1M946.5 822v1M947.5 822v1M948.5 822v1M949.5 822v1M950.5 822v1M951.5 822v1M952.5 823v1M953.5 823v1M954.5 823v1M955.5 823v1M956.5 823v1M957.5 823v1M958.5 823v1M959.5 823v1M960.5 824v1M961.5 824v1M962.5 824v1M963.5 825v2M964.5 827v2M965.5 829v1M966.5 830v2M967.5 832v2M968.5 834v1M969.5 835v2M970.5 837v1M971.5 836v1M972.5 834v2M973.5 833v1M974.5 832v1M975.5 831v1M976.5 830v1M977.5 829v1M978.5 828v1M979.5 828v1M980.5 829v1M981.5 829v1M982.5 829v1M983.5 830v1M984.5 830v1M985.5 830v1M986.5 831v1M987.5 831v1M988.5 831v1M989.5 831v1M990.5 831v1M991.5 831v1M992.5 832v1M993.5 832v1M994.5 831v2M995.5 829v2M996.5 827v2M997.5 825v2M998.5 823v2M999.5 822v1M1000.5 820v2M1001.5 818v2M1002.5 817v3M1003.5 820v4M1004.5 824v3M1005.5 827v3M1006.5 830v4M1007.5 834v3M1008.5 837v3M1009.5 840v4M1010.5 844v1M1011.5 844v1M1012.5 844v1M1013.5 844v1M1014.5 844v1M1015.5 844v1M1016.5 844v1M1017.5 844v1M1018.5 844v1M1019.5 845v1M1020.5 846v1M1021.5 847v1M1022.5 848v1M1023.5 849v1M1024.5 850v1M1025.5 851v1M1026.5 852v1M1027.5 852v1M1028.5 851v1M1029.5 851v1M1030.5 851v1M1031.5 851v1M1032.5 850v1M1033.5 850v1M1034.5 850v1M1035.5 849v1M1036.5 848v1M1037.5 847v1M1038.5 847v1M1039.5 846v1M1040.5 845v1M1041.5 844v1M1042.5 843v1M1043.5 843v1M1044.5 842v1M1045.5 842v1M1046.5 842v1M1047.5 841v1M1048.5 841v1M1049.5 840v1M1050.5 840v1M1051.5 841v1M1052.5 842v1M1053.5 843v1M1054.5 844v1M1055.5 845v2M1056.5 847v1M1057.5 848v1M1058.5 849v1M1059.5 849v1M1060.5 850v1M1061.5 850v1M1062.5 851v1M1063.5 851v1M1064.5 852v1M1065.5 852v1M1066.5 853v1M1067.5 852v1M1068.5 852v1M1069.5 851v1M1070.5 851v1M1071.5 850v1M1072.5 849v1M1073.5 849v1M1074.5 848v1M1075.5 848v1M1076.5 848v1M1077.5 848v1M1078.5 848v1M1079.5 847v1M1080.5 847v1M1081.5 847v1M1082.5 847v1M1083.5 846v1M1084.5 846v1M1085.5 846v1M1086.5 845v1M1087.5 845v1M1088.5 845v1M1089.5 844v1M1090.5 844v1M1091.5 845v1M1092.5 846v2M1093.5 848v1M1094.5 849v1M1095.5 850v1M1096.5 851v2M1097.5 853v1M1098.5 854v1M1099.5 853v1M1100.5 852v1M1101.5 851v1M1102.5 849v2M1103.5 848v1M1104.5 847v1M1105.5 846v1M1106.5 845v1M1107.5 845v1M1108.5 844v1M1109.5 844v1M1110.5 844v1M1111.5 843v1M1112.5 843v1M1113.5 842v1M1114.5 842v1M1115.5 841v1M1116.5 841v1M1117.5 840v1M1118.5 840v1M1119.5 839v1M1120.5 839v1M1121.5 838v1M1122.5 838v1M1123.5 837v1M1124.5 837v1M1125.5 837v1M1126.5 836v1M1127.5 836v1M1128.5 836v1M1129.5 835v1M1130.5 835v1M1131.5 834v1M1132.5 833v1M1133.5 832v1M1134.5 831v1M1135.5 830v1M1136.5 830v1M1137.5 829v1M1138.5 827v2M1139.5 826v1M1140.5 824v2M1141.5 823v1M1142.5 821v2M1143.5 820v1M1144.5 818v2M1145.5 817v1M1146.5 816v1M1147.5 816v1M1148.5 816v1M1149.5 816v1M1150.5 815v1M1151.5 815v1M1152.5 815v1M1153.5 815v1M1154.5 815v1M1155.5 814v1M1156.5 814v1M1157.5 814v1M1158.5 813v1M1159.5 813v1M1160.5 813v1M1161.5 812v1M1162.5 812v1M1163.5 811v1M1164.5 811v1M1165.5 811v1M1166.5 810v1M1167.5 810v1M1168.5 810v1M1169.5 809v1M1170.5 809v1M1171.5 809v1M1172.5 809v1M1173.5 809v1M1174.5 809v1M1175.5 809v1M1176.5 809v1M1177.5 809v1M1178.5 809v1M1179.5 809v1M1180.5 808v1M1181.5 808v1M1182.5 808v1M1183.5 808v1M1184.5 807v1M1185.5 807v1M1186.5 807v1M1187.5 806v1M1188.5 806v1M1189.5 805v1M1190.5 804v1M1191.5 804v1M1192.5 803v1M1193.5 802v1M1194.5 802v1M1195.5 801v1M1196.5 801v1M1197.5 800v1M1198.5 799v1M1199.5 799v1M1200.5 798v1M1201.5 798v1M1202.5 797v1M1203.5 797v1M1204.5 797v1M1205.5 797v1M1206.5 797v1M1207.5 797v1M1208.5 797v1M1209.5 797v1M1210.5 797v1M1211.5 798v1M1212.5 798v1M1213.5 799v1M1214.5 799v1M1215.5 800v1M1216.5 801v1M1217.5 801v1M1218.5 802v1M1219.5 802v1M1220.5 801v1M1221.5 801v1M1222.5 801v1M1223.5 801v1M1224.5 800v1M1225.5 800v1M1226.5 800v1M1227.5 801v1M1228.5 802v1M1229.5 803v2M1230.5 805v1M1231.5 806v1M1232.5 807v1M1233.5 808v1M1234.5 809v1M1235.5 810v1M1236.5 810v1M1237.5 811v1M1238.5 811v1M1239.5 812v1M1240.5 813v1M1241.5 813v1M1242.5 814v1M1243.5 813v1M1244.5 812v1M1245.5 812v1M1246.5 811v1M1247.5 810v1M1248.5 809v1M1249.5 809v1M1250.5 808v1M1251.5 808v1M1252.5 809v1M1253.5 809v1M1254.5 810v1M1255.5 810v1M1256.5 811v1M1257.5 811v1M1258.5 812v1M1259.5 812v1M1260.5 812v1M1261.5 812v1M1262.5 812v1M1263.5 812v1M1264.5 812v1M1265.5 812v1M1266.5 812v1M1267.5 812v1M1268.5 812v1M1269.5 812v1M1270.5 812v1M1271.5 812v1M1272.5 813v1M1273.5 813v1M1274.5 813v1M1275.5 812v1M1276.5 812v1M1277.5 811v1M1278.5 811v1M1279.5 810v1M1280.5 810v1M1281.5 809v1M1282.5 809v1M1283.5 808v1M1284.5 807v1M1285.5 806v1M1286.5 805v1M1287.5 804v1M1288.5 804v1M1289.5 803v1M1290.5 802v1M1291.5 802v1M1292.5 802v1M1293.5 802v1M1294.5 802v1M1295.5 802v1M1296.5 802v1M1297.5 802v1M1298.5 802v1M1299.5 802v1M1300.5 801v1M1301.5 801v1M1302.5 801v1M1303.5 801v1M1304.5 801v1M1305.5 801v1M1306.5 801v1M1307.5 800v1M1308.5 800v1M1309.5 800v1M1310.5 800v1M1311.5 799v1M1312.5 799v1M1313.5 799v1M1314.5 799v1M1315.5 799v1M1316.5 799v1M1317.5 800v1M1318.5 800v1M1319.5 801v1M1320.5 801v1M1321.5 802v1M1322.5 802v1M1323.5 802v1M1324.5 803v1M1325.5 803v1M1326.5 804v1M1327.5 804v1M1328.5 804v1M1329.5 805v1M1330.5 805v1M1331.5 806v1M1332.5 806v1M1333.5 807v1M1334.5 807v1M1335.5 807v1M1336.5 808v1M1337.5 808v1M1338.5 808v2M1339.5 807v1M1340.5 805v2M1341.5 803v2M1342.5 802v1M1343.5 800v2M1344.5 798v2M1345.5 797v1M1346.5 796v1M1347.5 796v1M1348.5 796v1M1349.5 796v1M1350.5 796v1M1351.5 797v1M1352.5 797v1M1353.5 797v1M1354.5 797v1M1355.5 798v1M1356.5 799v2M1357.5 801v1M1358.5 802v1M1359.5 803v1M1360.5 804v2M1361.5 806v1M1362.5 807v1M1363.5 807v1M1364.5 807v1M1365.5 806v1M1366.5 806v1M1367.5 806v1M1368.5 806v1M1369.5 806v1M1370.5 806v1M1371.5 807v1M1372.5 807v1M1373.5 808v1M1374.5 809v1M1375.5 810v1M1376.5 810v1M1377.5 811v1M1378.5 812v1M1379.5 812v1M1380.5 813v1M1381.5 814v1M1382.5 814v1M1383.5 815v1M1384.5 816v1M1385.5 816v1M1386.5 817v1M1387.5 817v1M1388.5 817v1M1389.5 817v1M1390.5 817v1M1391.5 818v1M1392.5 818v1M1393.5 818v1M1394.5 818v1M1395.5 816v2M1396.5 815v1M1397.5 813v2M1398.5 812v1M1399.5 811v1M1400.5 809v2M1401.5 808v1M1402.5 807v1M1403.5 807v1M1404.5 807v1M1405.5 806v1M1406.5 806v1M1407.5 806v1M1408.5 806v1M1409.5 806v1M1410.5 806v1M1411.5 806v1M1412.5 806v1M1413.5 806v1M1414.5 806v1M1415.5 806v1M1416.5 806v1M1417.5 806v1M1418.5 806v1" fill="none" stroke="#1e90ff" stroke-width="1"/>
<rect x="1648" y="33" width="5" height="5" fill="#ff0000"/><rect x="1649" y="34" width="3" height="3" fill="#fff"/>
<rect x="1648" y="52" width="5" height="5" fill="#ff0000"/><rect x="1649" y="53" width="3" height="3" fill="#fff"/>
<rect x="1648" y="102" width="5" height="5" fill="#0000ff"/><rect x="1649" y="103" width="3" height="3" fill="#fff"/>
<rect x="1648" y="123" width="5" height="5" fill="#0000ff"/><rect x="1649" y="124" width="3" height="3" fill="#fff"/>
<polygon points="1414,26 1425,26 1419.5,31.5" fill="#c0c0c0" shape-rendering="auto"/>
<polygon points="0,32 4,36 0,36" fill="#000" shape-rendering="auto"/><rect x="21" y="25" width="3" height="1" fill="#fff"/><rect x="22" y="24" width="1" height="3" fill="#000"/>
</svg>
<svg width="1700" height="939" viewBox="0 0 1700 939">
<g shape-rendering="crispEdges"><line x1="1249" y1="195.3" x2="1419.6" y2="79.5" stroke="#ff0000" stroke-width="3"/><polygon points="1427.5,74.2 1420.5,84.3 1415.5,77.0" fill="#ff0000" stroke="#ff0000" stroke-width="1.6" stroke-linejoin="round"/></g>
<g shape-rendering="crispEdges"><line x1="1312" y1="620" x2="1436.5" y2="618.6" stroke="#ff0000" stroke-width="3"/><polygon points="1446.0,618.5 1434.5,623.0 1434.5,614.2" fill="#ff0000" stroke="#ff0000" stroke-width="1.6" stroke-linejoin="round"/></g>
<g shape-rendering="crispEdges"><line x1="1325" y1="815.5" x2="1415.5" y2="807.8" stroke="#ff0000" stroke-width="3"/><polygon points="1425.0,807.0 1413.9,812.4 1413.2,803.6" fill="#ff0000" stroke="#ff0000" stroke-width="1.6" stroke-linejoin="round"/></g>
<rect x="1309" y="86" width="146" height="6" fill="#00ff00" shape-rendering="crispEdges"/>
<rect x="497" y="205" width="10" height="1" fill="#ff0000" shape-rendering="crispEdges"/>
<rect x="889" y="224" width="10" height="1" fill="#ff0000" shape-rendering="crispEdges"/>
<rect x="673" y="568" width="10" height="1" fill="#ff0000" shape-rendering="crispEdges"/>
<rect x="1089" y="428" width="10" height="1" fill="#ff0000" shape-rendering="crispEdges"/>
<rect x="1345" y="64" width="10" height="1" fill="#ff0000" shape-rendering="crispEdges"/>
<rect x="1115" y="86" width="7" height="1" fill="#ff0000" shape-rendering="crispEdges"/>
</svg>
<div class="an" style="left:435px;top:196px;width:62px;height:19px;font-size:16px;line-height:20px;letter-spacing:0.3px;">34933.4</div>
<div class="an" style="left:827px;top:215px;width:62px;height:19px;font-size:16px;line-height:20px;letter-spacing:0.3px;">34853.1</div>
<div class="an" style="left:611px;top:559px;width:62px;height:19px;font-size:16px;line-height:20px;letter-spacing:0.3px;">33388.2</div>
<div class="an" style="left:1027px;top:419px;width:62px;height:19px;font-size:16px;line-height:20px;letter-spacing:0.3px;">33984.0</div>
<div class="an" style="left:1283px;top:55px;width:62px;height:19px;font-size:16px;line-height:20px;letter-spacing:0.3px;">35534.8</div>
<div class="an" style="left:1125px;top:74px;width:74px;height:25px;font-size:20px;line-height:26px;letter-spacing:0.1px;">35440.9</div>
<div class="t pl" style="top:24.5px">35687.0</div>
<div class="t pl" style="top:57.5px">35547.0</div>
<div class="t pl" style="top:90.5px">35407.0</div>
<div class="t pl" style="top:123.5px">35263.0</div>
<div class="t pl" style="top:156.5px">35123.0</div>
<div class="t pl" style="top:189.5px">34983.0</div>
<div class="t pl" style="top:222.5px">34843.0</div>
<div class="t pl" style="top:255.5px">34703.0</div>
<div class="t pl" style="top:288.5px">34563.0</div>
<div class="t pl" style="top:321.5px">34423.0</div>
<div class="t pl" style="top:354.5px">34283.0</div>
<div class="t pl" style="top:387.5px">34139.0</div>
<div class="t pl" style="top:420.5px">33999.0</div>
<div class="t pl" style="top:453.5px">33859.0</div>
<div class="t pl" style="top:486.5px">33719.0</div>
<div class="t pl" style="top:519.5px">33579.0</div>
<div class="t pl" style="top:552.5px">33439.0</div>
<div class="t pl" style="top:585.5px">33299.0</div>
<div class="t" style="left:1658px;top:597.5px">230.56</div>
<div class="t" style="left:1658px;top:666.5px">0.00</div>
<div class="t" style="left:1658px;top:739.5px">-246.3</div>
<div class="t" style="left:1657px;top:755.5px">100</div>
<div class="t" style="left:1656px;top:784.5px">80</div>
<div class="t" style="left:1656px;top:835.5px">50</div>
<div class="t" style="left:1656px;top:896.5px">15</div>
<div class="t" style="left:1657px;top:915.5px">0</div>
<div class="bx" style="top:29px;background:#ff0000"><span>35654.7</span></div>
<div class="bx" style="top:48px;background:#ff0000"><span>35575.6</span></div>
<div class="bx" style="top:69px;background:#000000"><span>35487.0</span></div>
<div class="bx" style="top:80px;background:#32cd32"><span>35440.9</span></div>
<div class="bx" style="top:98px;background:#0000ff"><span>35363.4</span></div>
<div class="bx" style="top:119px;background:#0000ff"><span>35273.6</span></div>
<div class="t" style="left:-6px;top:932px;letter-spacing:-0.43px">13 Sep 2021</div>
<div class="t" style="left:58px;top:932px;letter-spacing:-0.43px">14 Sep 12:00</div>
<div class="t" style="left:122px;top:932px;letter-spacing:-0.43px">15 Sep 20:00</div>
<div class="t" style="left:186px;top:932px;letter-spacing:-0.43px">17 Sep 04:00</div>
<div class="t" style="left:250px;top:932px;letter-spacing:-0.43px">20 Sep 08:00</div>
<div class="t" style="left:314px;top:932px;letter-spacing:-0.43px">21 Sep 16:00</div>
<div class="t" style="left:378px;top:932px;letter-spacing:-0.43px">23 Sep 00:00</div>
<div class="t" style="left:442px;top:932px;letter-spacing:-0.43px">24 Sep 08:00</div>
<div class="t" style="left:506px;top:932px;letter-spacing:-0.43px">27 Sep 12:00</div>
<div class="t" style="left:570px;top:932px;letter-spacing:-0.43px">28 Sep 20:00</div>
<div class="t" style="left:634px;top:932px;letter-spacing:-0.43px">30 Sep 04:00</div>
<div class="t" style="left:698px;top:932px;letter-spacing:-0.43px">1 Oct 12:00</div>
<div class="t" style="left:762px;top:932px;letter-spacing:-0.43px">4 Oct 16:00</div>
<div class="t" style="left:826px;top:932px;letter-spacing:-0.43px">6 Oct 00:00</div>
<div class="t" style="left:890px;top:932px;letter-spacing:-0.43px">7 Oct 08:00</div>
<div class="t" style="left:954px;top:932px;letter-spacing:-0.43px">8 Oct 16:00</div>
<div class="t" style="left:1018px;top:932px;letter-spacing:-0.43px">11 Oct 20:00</div>
<div class="t" style="left:1082px;top:932px;letter-spacing:-0.43px">13 Oct 04:00</div>
<div class="t" style="left:1146px;top:932px;letter-spacing:-0.43px">14 Oct 12:00</div>
<div class="t" style="left:1210px;top:932px;letter-spacing:-0.43px">15 Oct 20:00</div>
<div class="t" style="left:1274px;top:932px;letter-spacing:-0.43px">19 Oct 00:00</div>
<div class="t" style="left:1338px;top:932px;letter-spacing:-0.43px">20 Oct 08:00</div>
<div class="t" style="left:1402px;top:932px;letter-spacing:-0.43px">21 Oct 16:00</div>
<div class="t" style="left:9px;top:29.500px;letter-spacing:-0.37px;">DJ30-,H4&nbsp; 35487.0 35487.0 35487.0 35487.0</div>
<div class="t" style="left:-1px;top:600px;letter-spacing:-0.36px;">MACD(12,26,9) 135.01 153.71</div>
<div class="t" style="left:-2px;top:758px;letter-spacing:-0.36px;">RSI(14) 69.1985</div>
<div style="position:absolute;left:0;top:45px;width:216px;height:57px;background:#fff;"></div>
<div style="position:absolute;left:0;top:45px;width:49px;height:24px;background:linear-gradient(#f64a4e,#e03434);"></div>
<div style="position:absolute;left:165px;top:45px;width:51px;height:24px;background:linear-gradient(#f64a4e,#e03434);"></div>
<div style="position:absolute;left:0;top:69px;width:106px;height:33px;background:linear-gradient(#da3232,#b00b0b);"></div>
<div style="position:absolute;left:108px;top:69px;width:108px;height:33px;background:linear-gradient(#da3232,#b00b0b);"></div>
<div style="position:absolute;left:1px;top:68px;width:44px;height:1px;background:#f59a9a;"></div>
<div style="position:absolute;left:168px;top:68px;width:44px;height:1px;background:#f59a9a;"></div>
<div style="position:absolute;left:51px;top:45px;width:111px;height:22px;box-sizing:border-box;border:1px solid #a9adb3;background:#fff;"></div>
<div style="position:absolute;left:53px;top:47px;width:18px;height:18px;background:linear-gradient(#f2f2f2,#cfcfcf);border-right:1px solid #b5b5b5;"></div>
<div style="position:absolute;left:141px;top:47px;width:19px;height:18px;background:linear-gradient(#f2f2f2,#cfcfcf);border-left:1px solid #b5b5b5;box-sizing:border-box;"></div>
<svg width="220" height="110" viewBox="0 0 220 110"><polygon points="59,54 64.500,54 61.700,57.300" fill="#4a63c8"/><polygon points="147.500,57.300 153,57.300 150.200,54" fill="#4a63c8"/></svg>
<div style="position:absolute;left:72px;top:48px;width:65px;text-align:right;font-size:12px;line-height:16px;color:#111;letter-spacing:-0.3px;">1.00</div>
<div style="position:absolute;left:0;top:50px;width:44px;text-align:center;font-size:11.5px;line-height:15px;color:#fff;letter-spacing:-0.4px;">SELL</div>
<div style="position:absolute;left:165px;top:50px;width:48px;text-align:center;font-size:11.5px;line-height:15px;color:#fff;letter-spacing:-0.4px;">BUY</div>
<div style="position:absolute;left:13.500px;top:86px;font-size:12px;letter-spacing:0.15px;line-height:15px;font-weight:bold;color:#fff;">35485</div>
<div style="position:absolute;left:124px;top:86px;font-size:12px;letter-spacing:0.15px;line-height:15px;font-weight:bold;color:#fff;">35498</div>
<div style="position:absolute;left:49.500px;top:67px;font-size:35px;line-height:38px;color:#fff;transform:scaleX(.86);transform-origin:0 0;">.5</div>
<div style="position:absolute;left:161px;top:67px;font-size:35px;line-height:38px;color:#fff;transform:scaleX(.86);transform-origin:0 0;">.5</div>
<div id="tb"></div>
<svg width="1700" height="23" viewBox="0 0 1700 23" style="top:0;left:0">
<circle cx="0" cy="9" r="5" fill="#cfe4f7" stroke="#6aa0d8" stroke-width="1.2"/><path d="M2 13L6 18" stroke="#d9a520" stroke-width="2.4"/>
<rect x="14" y="0" width="1" height="19" fill="#a0a0a0" shape-rendering="crispEdges"/>
<path d="M24.5 1.5h8l3.5 3.5v9.5h-11.5z" fill="#fff" stroke="#777" stroke-width="1"/><path d="M32.5 1.5v3.5h3.5" fill="#ddd" stroke="#777" stroke-width=".8"/><path d="M27 5.5h4M27 8h6M27 10.5h3" stroke="#888" stroke-width="1"/>
<path d="M32.3 7.5h4v3.6h3.6v4h-3.6v3.6h-4v-3.6h-3.6v-4h3.6z" fill="#2fc22f" stroke="#0f8a0f" stroke-width=".8"/>
<text x="43" y="12.6" font-family="Liberation Sans, Noto Sans CJK SC, sans-serif" font-size="12" fill="#000">新订单</text>
<defs><linearGradient id="gd" x1="0" y1="0" x2="1" y2="1"><stop offset="0" stop-color="#c9971f"/><stop offset=".35" stop-color="#fbe46e"/><stop offset=".7" stop-color="#eec23a"/><stop offset="1" stop-color="#c48f18"/></linearGradient><linearGradient id="bl" x1="0" y1="0" x2="0" y2="1"><stop offset="0" stop-color="#5db4ff"/><stop offset="1" stop-color="#1b7be6"/></linearGradient><radialGradient id="gr" cx=".2" cy=".5" r=".9"><stop offset="0" stop-color="#e8f3e8"/><stop offset="1" stop-color="#4fa458"/></radialGradient><linearGradient id="cl" x1="0" y1="0" x2="0" y2="1"><stop offset="0" stop-color="#ffffff"/><stop offset="1" stop-color="#b9cdea"/></linearGradient><linearGradient id="yl" x1="0" y1="0" x2="1" y2="0"><stop offset="0" stop-color="#f3c92e"/><stop offset=".5" stop-color="#fdf0a0"/><stop offset="1" stop-color="#eab820"/></linearGradient></defs>
<path d="M91 11.3L96.500 2.300L106.700 10.700L99.200 16.600z" fill="#9a6712"/><path d="M91.300 10.600L96.500 2.300L106.500 9.800L99 15.300z" fill="url(#gd)" stroke="#a87414" stroke-width=".6"/><path d="M99.200 15.600L106 10.400" stroke="#f6e6b0" stroke-width=".8"/>
<path d="M121.300 1.800L124.200 3.200V10.500L121.300 9z" fill="#0f5fd0"/><path d="M121.300 1.800L129.800 1.300L132.600 2.600L124.200 3.200z" fill="#7cc4ff"/><rect x="124.200" y="3.200" width="8.400" height="7.500" fill="url(#bl)"/><rect x="126.400" y="5.400" width="4.800" height="1.100" fill="#e6f3ff"/>
<path d="M122 16.600c-3.400 0-3.600-4.200-.6-4.600c.4-3 4.600-3.600 5.800-1.200c2.200-1.600 5.400 .2 4.800 2.200c3 .2 3 3.600 0 3.600z" fill="url(#cl)" stroke="#4f6fb0" stroke-width=".9"/>
<path d="M155 .6A7.900 7.900 0 0 1 155 16.400z" fill="url(#gr)" opacity=".75"/><g fill="none" stroke-width="1.100"><path d="M155 .8A7.700 7.700 0 0 0 155 16.200" stroke="#9db8e6"/><path d="M155 3.300A5.200 5.200 0 0 0 155 13.700" stroke="#5f8be0"/><path d="M155 3.300A5.200 5.200 0 0 1 155 13.700" stroke="#9fcf9f"/><path d="M155 .8A7.700 7.700 0 0 1 155 16.200" stroke="#7fb987"/></g><circle cx="154.900" cy="8.400" r="2" fill="#2457c9"/><path d="M155.400 9V16.500" stroke="#25a52a" stroke-width="1.500"/>
<path d="M176.200 8L182.600 16.600L189.300 8z" fill="url(#yl)" stroke="#c99a1a" stroke-width=".6"/><ellipse cx="182.200" cy="5.900" rx="7.800" ry="2.500" fill="#4f9fd8" stroke="#2a73b3" stroke-width=".6"/><path d="M178.200 5.200c.3-5.200 6.700-5.200 7 0c-2 1-5 1-7 0z" fill="#6cb3e6" stroke="#2a73b3" stroke-width=".6"/><circle cx="186.600" cy="12.700" r="4" fill="#de2a1a" stroke="#a31208" stroke-width=".6"/><rect x="185" y="11.300" width="3.100" height="2.800" fill="#fff"/>
<text x="196" y="12.600" font-family="Liberation Sans, Noto Sans CJK SC, sans-serif" font-size="11.600" fill="#000">自动交易</text>
<rect x="250" y="0" width="1" height="20" fill="#8c8c8c" shape-rendering="crispEdges"/>
<rect x="254" y="2" width="3" height="1" fill="#b4b4b4" shape-rendering="crispEdges"/>
<rect x="254" y="4" width="3" height="1" fill="#b4b4b4" shape-rendering="crispEdges"/>
<rect x="254" y="6" width="3" height="1" fill="#b4b4b4" shape-rendering="crispEdges"/>
<rect x="254" y="8" width="3" height="1" fill="#b4b4b4" shape-rendering="crispEdges"/>
<rect x="254" y="10" width="3" height="1" fill="#b4b4b4" shape-rendering="crispEdges"/>
<rect x="254" y="12" width="3" height="1" fill="#b4b4b4" shape-rendering="crispEdges"/>
<rect x="254" y="14" width="3" height="1" fill="#b4b4b4" shape-rendering="crispEdges"/>
<rect x="254" y="16" width="3" height="1" fill="#b4b4b4" shape-rendering="crispEdges"/>
<g stroke="#555" stroke-width="1.1" fill="none"><path d="M268.4 3.2V17M266.09999999999997 14.8H279.4"/><path d="M266.79999999999995 5L268.4 3L270.0 5M277.9 13.4L279.79999999999995 14.8L277.9 16.2"/></g>
<path d="M274.5 5V12M272 11.6H274.5M274.5 5.4H277.3" stroke="#1f9a1f" stroke-width="1.4" fill="none"/>
<rect x="289" y="0" width="24" height="19" fill="#f8f8f8"/><rect x="289" y="0" width="1" height="19" fill="#8a8a8a" shape-rendering="crispEdges"/>
<g stroke="#555" stroke-width="1.1" fill="none"><path d="M296.6 3.2V17M294.3 14.8H307.6"/><path d="M295.0 5L296.6 3L298.20000000000005 5M306.1 13.4L308.0 14.8L306.1 16.2"/></g>
<path d="M302.5 1.3V12.8" stroke="#157a15" stroke-width="1"/><rect x="300.2" y="3.3" width="4.6" height="7.8" fill="#2fd02f" stroke="#157a15" stroke-width=".9"/>
<g stroke="#555" stroke-width="1.1" fill="none"><path d="M324.5 3.2V17M322.2 14.8H335.5"/><path d="M322.9 5L324.5 3L326.1 5M334.0 13.4L335.9 14.8L334.0 16.2"/></g>
<path d="M323 12C325.5 9.5 327.5 5.7 329.5 5.7S333 9.5 334.8 10.8" stroke="#2a9a2a" stroke-width="1.2" fill="none"/>
<rect x="345" y="0" width="1" height="19" fill="#9a9a9a" shape-rendering="crispEdges"/>
<path d="M363.6 10.8L369 16.4" stroke="#d7a820" stroke-width="2.6" stroke-linecap="round"/><circle cx="360" cy="7" r="5" fill="#d5e9fa" stroke="#3c82d2" stroke-width="1.4"/>
<path d="M357.3 7H362.7M360 4.3V9.7" stroke="#2f74c8" stroke-width="1.5"/>
<path d="M392.0 10.8L397.4 16.4" stroke="#d7a820" stroke-width="2.6" stroke-linecap="round"/><circle cx="388.4" cy="7" r="5" fill="#d5e9fa" stroke="#3c82d2" stroke-width="1.4"/>
<path d="M385.7 7H391.09999999999997" stroke="#2f74c8" stroke-width="1.5"/>
<rect x="410.6" y="1.4" width="7.6" height="7.4" fill="#5fae2a"/><rect x="412.1" y="4.199999999999999" width="4.6" height="3.2" fill="#fff" opacity=".9"/>
<rect x="418.8" y="1.4" width="7.6" height="7.4" fill="#2b55cf"/><rect x="420.3" y="4.199999999999999" width="4.6" height="3.2" fill="#fff" opacity=".9"/>
<rect x="410.6" y="9.4" width="7.6" height="7.4" fill="#2b55cf"/><rect x="412.1" y="12.2" width="4.6" height="3.2" fill="#fff" opacity=".9"/>
<rect x="418.8" y="9.4" width="7.6" height="7.4" fill="#5fae2a"/><rect x="420.3" y="12.2" width="4.6" height="3.2" fill="#fff" opacity=".9"/>
<rect x="435" y="0" width="1" height="19" fill="#9a9a9a" shape-rendering="crispEdges"/>
<rect x="440" y="0" width="24" height="19" fill="#f8f8f8"/><rect x="440" y="0" width="1" height="19" fill="#8a8a8a" shape-rendering="crispEdges"/>
<g stroke="#555" stroke-width="1.1" fill="none"><path d="M448.4 3.2V17M446.09999999999997 14.8H459.4"/><path d="M446.79999999999995 5L448.4 3L450.0 5M457.9 13.4L459.79999999999995 14.8L457.9 16.2"/></g>
<path d="M453.6 5.7L457 8.6L453.6 11.5z" fill="none" stroke="#22aa22" stroke-width="1.1"/>
<rect x="468" y="0" width="25" height="19" fill="#f8f8f8"/><rect x="468" y="0" width="1" height="19" fill="#8a8a8a" shape-rendering="crispEdges"/>
<g stroke="#555" stroke-width="1.1" fill="none"><path d="M476.6 3.2V17M474.3 14.8H487.6"/><path d="M475.0 5L476.6 3L478.20000000000005 5M486.1 13.4L488.0 14.8L486.1 16.2"/></g>
<path d="M482.5 3V12.8" stroke="#1d5fae" stroke-width="1.2"/><path d="M483.4 8.6H488M485.6 6.6L483.4 8.6L485.6 10.6" stroke="#d03a10" stroke-width="1.1" fill="none"/>
<rect x="497" y="0" width="1" height="19" fill="#9a9a9a" shape-rendering="crispEdges"/>
<path d="M507.5 1.5h7.5l3.5 3.5v9h-11z" fill="#fff" stroke="#777" stroke-width="1"/><path d="M515 1.5v3.5h3.5" fill="#ddd" stroke="#777" stroke-width=".8"/><path d="M512.5 4.5c-1.6-.4-2 .8-2 2.2v5M509.3 8h3" stroke="#555" stroke-width="1" fill="none"/>
<path d="M515.3 7.5h4v3.6h3.6v4h-3.6v3.6h-4v-3.6h-3.6v-4h3.6z" fill="#2fc22f" stroke="#0f8a0f" stroke-width=".8"/>
<polygon points="529.3,8.5 534.3,8.5 531.8,11.5" fill="#000"/>
<circle cx="553" cy="8.9" r="6.8" fill="#fff" stroke="#2a6fd6" stroke-width="2.4"/><circle cx="553" cy="8.9" r="7.9" fill="none" stroke="#1b4fa8" stroke-width=".6"/><path d="M553 4.6V9.2H556" stroke="#555" stroke-width="1.1" fill="none"/>
<polygon points="568,8.5 573,8.5 570.5,11.5" fill="#000"/>
<rect x="584.4" y="2" width="15.8" height="13.6" fill="#fff" stroke="#3a6fd0" stroke-width="1.1"/><rect x="584.4" y="2" width="15.8" height="2.6" fill="#4a86e0"/><path d="M586.5 8.2l3-1l3 .4l2.5-1.4l3 .2" stroke="#b52a1a" stroke-width="1.2" fill="none"/><path d="M586.5 13l2.5-1.2l2.5 1l2.5-2l2 1.6l2-1" stroke="#2a9a2a" stroke-width="1.2" fill="none"/>
<polygon points="607.2,8.5 612.2,8.5 609.7,11.5" fill="#000"/>
<rect x="618" y="0" width="1" height="20" fill="#8c8c8c" shape-rendering="crispEdges"/>
<rect x="622" y="2" width="3" height="1" fill="#b4b4b4" shape-rendering="crispEdges"/>
<rect x="622" y="4" width="3" height="1" fill="#b4b4b4" shape-rendering="crispEdges"/>
<rect x="622" y="6" width="3" height="1" fill="#b4b4b4" shape-rendering="crispEdges"/>
<rect x="622" y="8" width="3" height="1" fill="#b4b4b4" shape-rendering="crispEdges"/>
<rect x="622" y="10" width="3" height="1" fill="#b4b4b4" shape-rendering="crispEdges"/>
<rect x="622" y="12" width="3" height="1" fill="#b4b4b4" shape-rendering="crispEdges"/>
<rect x="622" y="14" width="3" height="1" fill="#b4b4b4" shape-rendering="crispEdges"/>
<rect x="622" y="16" width="3" height="1" fill="#b4b4b4" shape-rendering="crispEdges"/>
<rect x="628" y="0" width="25" height="19" fill="#f8f8f8"/><rect x="628" y="0" width="1" height="19" fill="#8a8a8a" shape-rendering="crispEdges"/>
<path d="M636 2V14.2L638.9 11.6L641.2 16.2L643 15.3L640.8 10.8L644.6 10.6z" fill="#444"/>
<path d="M661 9.5H667.3M669.7 9.5H676M668.5 2V8.3M668.5 10.7V17" stroke="#555" stroke-width="1" shape-rendering="crispEdges"/>
<rect x="685" y="0" width="1" height="19" fill="#9a9a9a" shape-rendering="crispEdges"/>
<rect x="702" y="3" width="1" height="13" fill="#555" shape-rendering="crispEdges"/><rect x="725" y="9" width="12" height="1" fill="#555" shape-rendering="crispEdges"/><path d="M752.8 16.2L765.3 3.8" stroke="#555" stroke-width="1.1"/>
<g stroke="#555" stroke-width="1"><path d="M779 12.5L792.5 3M781 15.8L793.4 6.5"/><path d="M782.5 9.5V15M785.5 7.2V13.2M788.5 5V11M791.5 2.5V9" stroke-width=".9"/></g>
<text x="790.5" y="17.6" font-family="Liberation Sans, sans-serif" font-size="7" font-weight="bold" fill="#333">E</text>
<line x1="808" y1="2.5" x2="821.5" y2="2.5" stroke="#666" stroke-width="1" stroke-dasharray="1,1" shape-rendering="crispEdges"/>
<line x1="808" y1="6.5" x2="821.5" y2="6.5" stroke="#666" stroke-width="1" stroke-dasharray="1,1" shape-rendering="crispEdges"/>
<line x1="808" y1="9.5" x2="821.5" y2="9.5" stroke="#666" stroke-width="1" stroke-dasharray="1,1" shape-rendering="crispEdges"/>
<line x1="808" y1="13.5" x2="821.5" y2="13.5" stroke="#666" stroke-width="1" stroke-dasharray="1,1" shape-rendering="crispEdges"/>
<text x="817.8" y="17.8" font-family="Liberation Sans, sans-serif" font-size="7" font-weight="bold" fill="#333">F</text>
<text x="838.4" y="13.8" font-family="Liberation Sans, sans-serif" font-size="12" fill="#555">A</text>
<rect x="865.5" y="3.5" width="11" height="12" fill="none" stroke="#666" stroke-width="1" stroke-dasharray="1,1" shape-rendering="crispEdges"/><text x="867.3" y="13.8" font-family="Liberation Sans, sans-serif" font-size="11.5" fill="#555">T</text>
<path d="M896 2.8L899 5.8L896 8.8L893 5.8zM902.8 10.4L905.8 13.4L902.8 16.4L899.8 13.4z" fill="#444"/><path d="M895 9.6L897.4 12.4L901.6 7.6" stroke="#444" stroke-width="1.2" fill="none"/>
<polygon points="913,8.3 918,8.3 915.5,11.3" fill="#000"/>
<rect x="924" y="0" width="1" height="20" fill="#8c8c8c" shape-rendering="crispEdges"/>
<rect x="928" y="2" width="3" height="1" fill="#b4b4b4" shape-rendering="crispEdges"/>
<rect x="928" y="4" width="3" height="1" fill="#b4b4b4" shape-rendering="crispEdges"/>
<rect x="928" y="6" width="3" height="1" fill="#b4b4b4" shape-rendering="crispEdges"/>
<rect x="928" y="8" width="3" height="1" fill="#b4b4b4" shape-rendering="crispEdges"/>
<rect x="928" y="10" width="3" height="1" fill="#b4b4b4" shape-rendering="crispEdges"/>
<rect x="928" y="12" width="3" height="1" fill="#b4b4b4" shape-rendering="crispEdges"/>
<rect x="928" y="14" width="3" height="1" fill="#b4b4b4" shape-rendering="crispEdges"/>
<rect x="928" y="16" width="3" height="1" fill="#b4b4b4" shape-rendering="crispEdges"/>
<rect x="1074" y="0" width="25" height="19" fill="#f8f8f8"/><rect x="1074" y="0" width="1" height="19" fill="#8a8a8a" shape-rendering="crispEdges"/>
<rect x="1185" y="0" width="1" height="19" fill="#9a9a9a" shape-rendering="crispEdges"/>
<circle cx="1656" cy="5.3" r="3.6" fill="#eef5fd" stroke="#2f6fd6" stroke-width="1.6"/><path d="M1653.4 8.2L1648.4 13.4" stroke="#2f6fd6" stroke-width="2.3" stroke-linecap="round"/>
<path d="M1673 11c0-3 3-4.6 6.5-4.6s6.500 1.6 6.5 4.600s-3 4.400-6.500 4.400c-.8 0-1.600-.1-2.300-.3l-2.200 2.200l.2-2.900c-1.400-.8-2.200-2-2.200-3.400z" fill="#eef0f4" stroke="#b9bec8" stroke-width=".9"/>
<circle cx="1686.4" cy="6.6" r="7.9" fill="#e03a22"/><circle cx="1686.4" cy="5" r="6" fill="#f0553a" opacity=".5"/><text x="1683" y="11" font-family="Liberation Sans, sans-serif" font-size="12" fill="#fff">1</text>
</svg>
<div class="tf" style="left:932px">M1</div>
<div class="tf" style="left:960px">M5</div>
<div class="tf" style="left:988px">M15</div>
<div class="tf" style="left:1016px">M30</div>
<div class="tf" style="left:1044px">H1</div>
<div class="tf" style="left:1072px">H4</div>
<div class="tf" style="left:1100px">D1</div>
<div class="tf" style="left:1128px">W1</div>
<div class="tf" style="left:1156px">MN</div>
</body></html>
